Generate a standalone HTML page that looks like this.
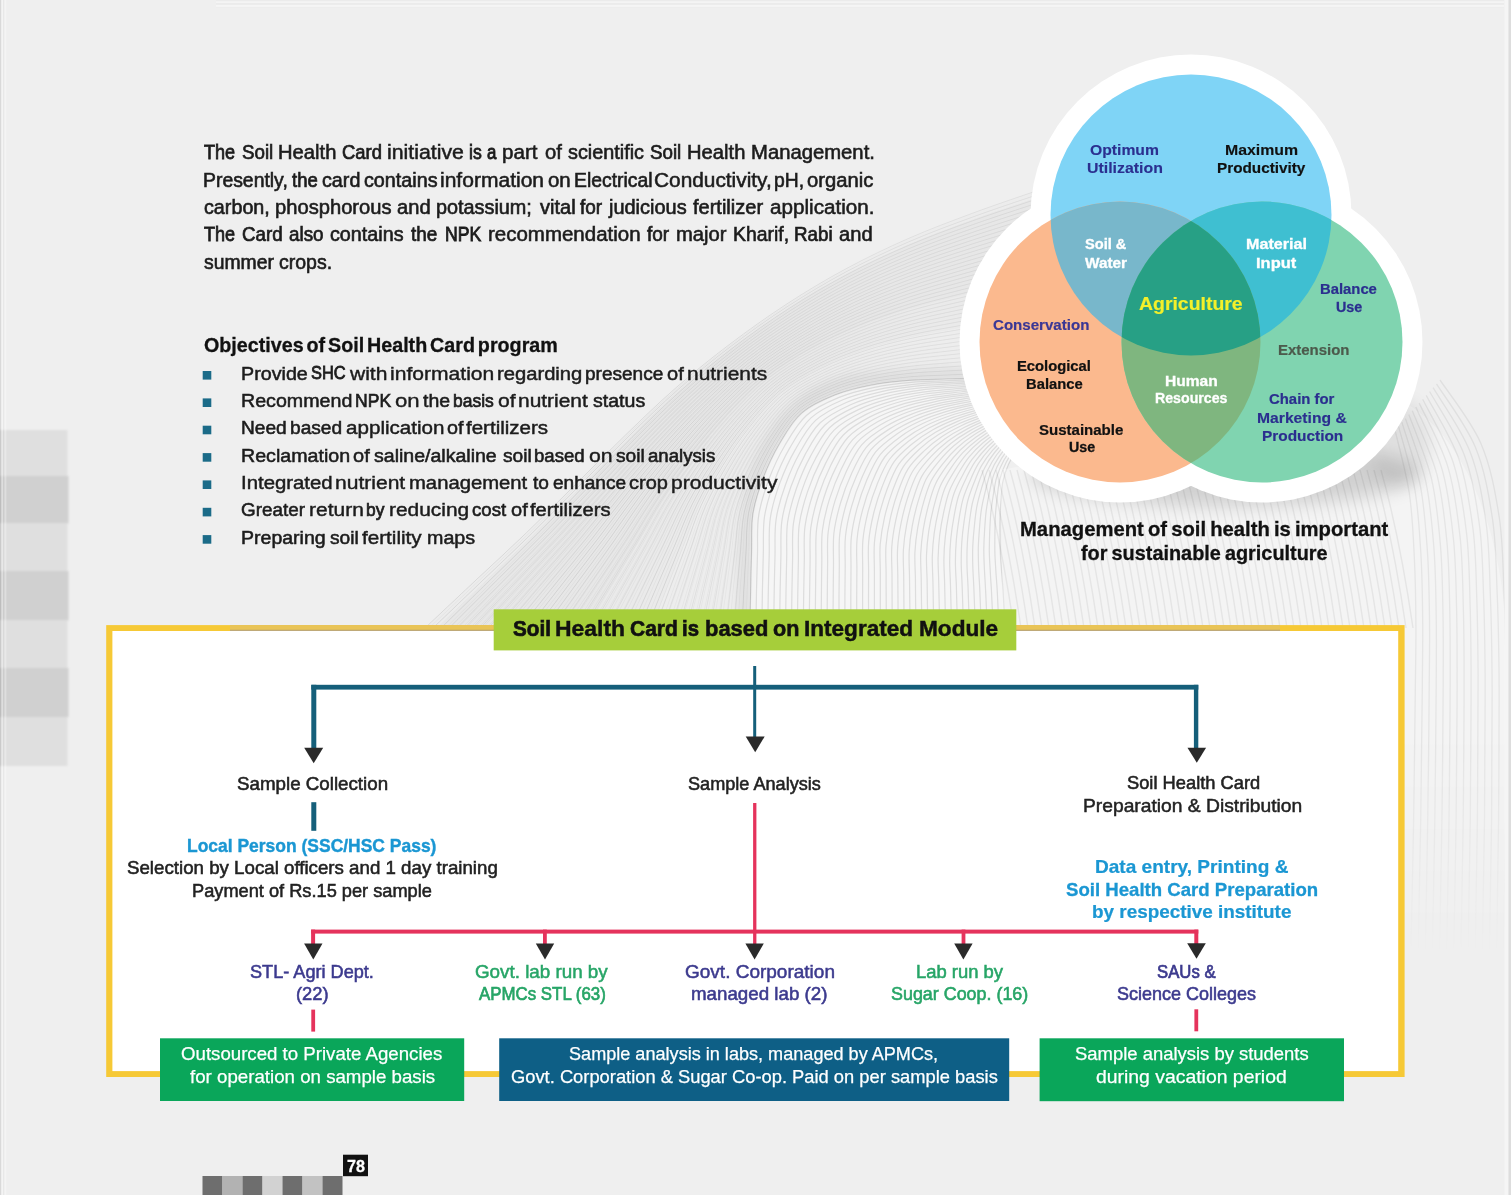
<!DOCTYPE html>
<html><head><meta charset="utf-8"><title>Soil Health Card</title>
<style>
html,body{margin:0;padding:0}
body{width:1511px;height:1195px;position:relative;overflow:hidden;background:#efefef;font-family:"Liberation Sans",sans-serif}
.t{position:absolute;white-space:pre;line-height:1;transform-origin:0 0}
.b{position:absolute}
#art{position:absolute;left:0;top:0}
</style></head><body>
<!--BG-->
<svg id="art" width="1511" height="1195" viewBox="0 0 1511 1195">
<defs>
<clipPath id="cb"><circle cx="1191" cy="215" r="140.5"/></clipPath>
<clipPath id="co"><circle cx="1120" cy="342" r="140.5"/></clipPath>
<filter id="sh" x="-20%" y="-20%" width="140%" height="150%"><feGaussianBlur stdDeviation="9"/></filter>
<filter id="b5" x="-20%" y="-20%" width="140%" height="140%"><feGaussianBlur stdDeviation="5"/></filter>
<linearGradient id="fg" x1="0" y1="0" x2="0" y2="1"><stop offset="0" stop-color="#fff"/><stop offset="0.62" stop-color="#fff"/><stop offset="0.8" stop-color="#000"/><stop offset="1" stop-color="#000"/></linearGradient>
<mask id="fade" maskUnits="userSpaceOnUse" x="0" y="0" width="1511" height="1195"><rect x="0" y="0" width="1511" height="1195" fill="url(#fg)"/></mask>
<filter id="b1" x="-10%" y="-10%" width="120%" height="120%"><feGaussianBlur stdDeviation="0.9"/></filter>
<linearGradient id="fg2" gradientUnits="userSpaceOnUse" x1="520" y1="600" x2="900" y2="270"><stop offset="0" stop-color="#fff"/><stop offset="0.45" stop-color="#fff"/><stop offset="1" stop-color="#000"/></linearGradient>
<mask id="fade2" maskUnits="userSpaceOnUse" x="0" y="0" width="1511" height="1195"><rect x="0" y="0" width="1511" height="1195" fill="url(#fg2)"/></mask>
</defs>
<path d="M425.0 628.0C433.4 620.1 458.7 596.3 475.6 580.4C492.5 564.6 509.6 549.0 526.3 533.0C543.0 516.9 559.3 500.5 575.8 484.2C592.3 467.9 608.5 451.4 625.2 435.4C641.8 419.3 658.4 403.1 675.9 387.9C693.3 372.7 711.4 358.1 729.8 344.2C748.3 330.2 767.2 316.7 786.6 304.1C806.0 291.5 825.9 279.6 846.3 268.6C866.6 257.6 887.6 247.6 908.8 238.3C930.0 229.1 951.7 220.9 973.4 212.9C995.1 204.8 1028.1 193.8 1039.0 190.0 L1036.8 197.5C1026.1 201.2 993.8 211.8 972.5 219.5C951.2 227.2 929.8 235.0 909.0 243.9C888.2 252.9 867.6 262.5 847.6 273.1C827.5 283.7 807.9 295.3 788.9 307.5C769.8 319.8 751.2 332.9 733.2 346.6C715.1 360.3 697.5 374.7 680.5 389.6C663.6 404.6 647.4 420.6 631.3 436.5C615.1 452.4 599.3 468.7 583.4 484.9C567.5 501.0 551.8 517.4 535.7 533.3C519.6 549.3 503.1 564.9 486.8 580.6C470.5 596.4 446.1 620.1 438.0 628.0Z" fill="#000" opacity="0.012" />
<path d="M438.0 628.0C446.1 620.1 470.5 596.4 486.8 580.6C503.1 564.9 519.6 549.3 535.7 533.3C551.8 517.4 567.5 501.0 583.4 484.9C599.3 468.7 615.1 452.4 631.3 436.5C647.4 420.6 663.6 404.6 680.5 389.6C697.5 374.7 715.1 360.3 733.2 346.6C751.2 332.9 769.8 319.8 788.9 307.5C807.9 295.3 827.5 283.7 847.6 273.1C867.6 262.5 888.2 252.9 909.0 243.9C929.8 235.0 951.2 227.2 972.5 219.5C993.8 211.8 1026.1 201.2 1036.8 197.5 L1012.0 284.0C1003.5 286.0 978.1 291.6 961.2 295.7C944.3 299.9 927.3 303.9 910.7 308.9C894.0 313.9 877.5 319.4 861.4 325.9C845.3 332.5 829.3 339.7 814.1 348.0C798.9 356.3 783.7 365.3 770.0 375.9C756.3 386.5 744.0 398.9 732.0 411.5C720.1 424.1 709.1 437.7 698.4 451.4C687.8 465.1 677.6 479.3 668.1 493.8C658.5 508.3 650.2 523.7 641.3 538.6C632.3 553.5 623.3 568.3 614.3 583.2C605.4 598.2 592.0 620.5 587.5 628.0Z" fill="#000" opacity="0.03" />
<path d="M587.5 628.0C592.0 620.5 605.4 598.2 614.3 583.2C623.3 568.3 632.3 553.5 641.3 538.6C650.2 523.7 658.5 508.3 668.1 493.8C677.6 479.3 687.8 465.1 698.4 451.4C709.1 437.7 720.1 424.1 732.0 411.5C744.0 398.9 756.3 386.5 770.0 375.9C783.7 365.3 798.9 356.3 814.1 348.0C829.3 339.7 845.3 332.5 861.4 325.9C877.5 319.4 894.0 313.9 910.7 308.9C927.3 303.9 944.3 299.9 961.2 295.7C978.1 291.6 1003.5 286.0 1012.0 284.0 L1001.2 321.6C993.6 322.8 971.0 326.4 955.9 329.0C940.8 331.7 925.6 334.0 910.7 337.4C895.8 340.8 880.9 344.6 866.4 349.4C851.9 354.3 837.4 359.7 823.7 366.4C810.0 373.2 796.2 380.5 784.3 389.9C772.4 399.3 762.2 411.0 752.4 422.7C742.6 434.3 733.7 447.0 725.5 459.9C717.2 472.7 709.4 486.0 702.7 499.7C696.1 513.5 691.2 528.1 685.6 542.3C679.9 556.5 674.4 570.8 668.9 585.1C663.4 599.4 655.2 620.9 652.5 628.0Z" fill="#000" opacity="0.02" />
<path d="M652.5 628.0C655.2 620.9 663.4 599.4 668.9 585.1C674.4 570.8 679.9 556.5 685.6 542.3C691.2 528.1 696.1 513.5 702.7 499.7C709.4 486.0 717.2 472.7 725.5 459.9C733.7 447.0 742.6 434.3 752.4 422.7C762.2 411.0 772.4 399.3 784.3 389.9C796.2 380.5 810.0 373.2 823.7 366.4C837.4 359.7 851.9 354.3 866.4 349.4C880.9 344.6 895.8 340.8 910.7 337.4C925.6 334.0 940.8 331.7 955.9 329.0C971.0 326.4 993.6 322.8 1001.2 321.6 L985.0 378.0C978.7 378.2 959.7 378.6 947.1 379.0C934.5 379.4 921.8 379.4 909.3 380.4C896.7 381.4 884.0 382.6 871.7 385.0C859.3 387.5 846.7 390.3 835.1 395.0C823.5 399.7 811.0 404.9 801.8 413.0C792.5 421.2 786.0 432.9 779.5 443.7C773.1 454.5 767.7 466.2 763.3 477.9C758.9 489.7 754.9 502.0 752.9 514.4C751.0 526.8 752.0 539.6 751.6 552.2C751.2 564.9 750.9 577.5 750.7 590.1C750.4 602.7 750.1 621.7 750.0 628.0Z" fill="#000" opacity="0.008" />
<path d="M425.0 628.0C433.4 620.1 458.7 596.3 475.6 580.4C492.5 564.6 509.6 549.0 526.3 532.9C543.1 516.9 559.4 500.4 575.8 484.2C592.3 467.9 608.6 451.3 625.2 435.3C641.9 419.2 658.5 403.0 675.9 387.8C693.4 372.6 711.4 358.1 729.9 344.1C748.3 330.2 767.2 316.7 786.6 304.1C806.0 291.5 825.9 279.5 846.3 268.6C866.7 257.6 887.6 247.6 908.8 238.3C930.0 229.0 951.7 221.0 973.4 212.9C995.1 204.8 1028.1 193.8 1039.0 190.0M432.9 628.0C441.2 620.1 465.9 596.4 482.3 580.7C498.8 564.9 515.5 549.3 531.8 533.4C548.1 517.4 564.0 501.1 580.2 484.9C596.3 468.7 612.2 452.3 628.6 436.3C645.0 420.4 661.3 404.2 678.5 389.1C695.6 374.1 713.4 359.6 731.6 345.8C749.8 332.0 768.6 318.7 787.8 306.3C807.0 293.9 826.7 282.2 846.9 271.4C867.1 260.7 887.9 250.9 908.8 241.8C929.8 232.7 951.3 224.8 972.8 217.0C994.2 209.1 1026.9 198.3 1037.7 194.6M440.9 628.0C448.9 620.1 473.0 596.6 489.1 580.9C505.1 565.2 521.4 549.7 537.3 533.8C553.2 518.0 568.7 501.7 584.5 485.6C600.3 469.5 615.9 453.2 632.0 437.3C648.1 421.5 664.1 405.5 681.0 390.5C697.9 375.5 715.4 361.2 733.4 347.5C751.4 333.8 769.9 320.7 789.0 308.5C808.0 296.3 827.6 284.8 847.5 274.3C867.5 263.7 888.1 254.1 908.8 245.3C929.6 236.4 950.9 228.7 972.1 221.0C993.4 213.3 1025.7 202.8 1036.4 199.2M448.8 628.0C456.6 620.2 480.1 596.7 495.8 581.1C511.4 565.5 527.3 550.1 542.8 534.3C558.3 518.5 573.4 502.3 588.8 486.3C604.2 470.3 619.6 454.1 635.3 438.4C651.1 422.6 666.9 406.7 683.5 391.9C700.2 377.0 717.4 362.7 735.1 349.2C752.9 335.7 771.3 322.8 790.2 310.7C809.0 298.7 828.4 287.4 848.1 277.1C867.9 266.8 888.3 257.4 908.8 248.7C929.4 240.0 950.4 232.5 971.5 225.1C992.5 217.6 1024.5 207.3 1035.0 203.8M456.7 628.0C464.3 620.2 487.2 596.9 502.5 581.4C517.7 565.8 533.2 550.5 548.3 534.8C563.4 519.1 578.1 503.0 593.1 487.1C608.2 471.2 623.2 455.0 638.7 439.4C654.2 423.8 669.7 408.0 686.1 393.2C702.4 378.5 719.3 364.2 736.9 350.9C754.4 337.5 772.7 324.8 791.3 313.0C810.0 301.1 829.2 290.1 848.7 279.9C868.3 269.8 888.5 260.7 908.8 252.2C929.2 243.7 950.0 236.4 970.8 229.1C991.6 221.8 1023.2 211.8 1033.7 208.3M464.6 628.0C472.1 620.3 494.3 597.0 509.2 581.6C524.0 566.1 539.1 550.9 553.8 535.2C568.5 519.6 582.7 503.6 597.4 487.8C612.2 472.0 626.9 456.0 642.1 440.4C657.3 424.9 672.5 409.2 688.6 394.6C704.7 379.9 721.3 365.8 738.6 352.5C756.0 339.3 774.1 326.8 792.5 315.2C811.0 303.6 830.0 292.7 849.4 282.8C868.7 272.9 888.7 263.9 908.8 255.6C929.0 247.4 949.6 240.3 970.2 233.2C990.8 226.0 1022.0 216.3 1032.4 212.9M472.6 628.0C479.8 620.3 501.4 597.2 515.9 581.8C530.3 566.4 545.0 551.3 559.3 535.7C573.6 520.2 587.4 504.2 601.8 488.5C616.1 472.8 630.6 456.9 645.5 441.5C660.3 426.0 675.3 410.5 691.1 396.0C706.9 381.4 723.3 367.3 740.4 354.2C757.5 341.1 775.4 328.8 793.7 317.4C812.0 306.0 830.8 295.3 850.0 285.6C869.2 275.9 888.9 267.2 908.9 259.1C928.8 251.0 949.2 244.1 969.5 237.2C989.9 230.3 1020.8 220.8 1031.1 217.5M480.5 628.0C487.5 620.3 508.5 597.4 522.6 582.1C536.6 566.8 550.9 551.6 564.8 536.2C578.7 520.7 592.1 504.9 606.1 489.3C620.1 473.6 634.2 457.8 648.8 442.5C663.4 427.2 678.1 411.8 693.6 397.3C709.2 382.9 725.3 368.9 742.1 355.9C759.0 342.9 776.8 330.8 794.9 319.6C813.0 308.4 831.6 298.0 850.6 288.5C869.6 279.0 889.1 270.4 908.9 262.6C928.6 254.7 948.7 248.0 968.9 241.3C989.0 234.5 1019.6 225.3 1029.8 222.1M488.4 628.0C495.2 620.4 515.7 597.5 529.3 582.3C543.0 567.1 556.8 552.0 570.3 536.6C583.8 521.3 596.7 505.5 610.4 490.0C624.0 474.5 637.9 458.7 652.2 443.5C666.5 428.3 680.9 413.0 696.2 398.7C711.5 384.4 727.2 370.4 743.9 357.6C760.5 344.8 778.2 332.9 796.1 321.8C814.0 310.8 832.4 300.6 851.2 291.3C870.0 282.0 889.4 273.7 908.9 266.0C928.4 258.4 948.3 251.9 968.2 245.3C988.2 238.8 1018.4 229.8 1028.5 226.7M496.3 628.0C503.0 620.4 522.8 597.7 536.0 582.5C549.3 567.4 562.7 552.4 575.8 537.1C588.9 521.8 601.4 506.1 614.7 490.7C628.0 475.3 641.6 459.7 655.6 444.6C669.6 429.4 683.7 414.3 698.7 400.0C713.7 385.8 729.2 371.9 745.7 359.3C762.1 346.6 779.6 334.9 797.3 324.0C815.0 313.2 833.2 303.2 851.8 294.2C870.4 285.1 889.6 277.0 908.9 269.5C928.2 262.0 947.9 255.7 967.6 249.4C987.3 243.0 1017.2 234.3 1027.1 231.3M504.3 628.0C510.7 620.5 529.9 597.8 542.7 582.8C555.6 567.7 568.6 552.8 581.3 537.6C594.0 522.3 606.1 506.8 619.0 491.4C632.0 476.1 645.2 460.6 658.9 445.6C672.6 430.6 686.5 415.5 701.2 401.4C716.0 387.3 731.2 373.5 747.4 360.9C763.6 348.4 781.0 336.9 798.5 326.3C816.0 315.6 834.0 305.9 852.4 297.0C870.8 288.1 889.8 280.2 908.9 273.0C928.0 265.7 947.5 259.6 967.0 253.4C986.5 247.2 1016.0 238.8 1025.8 235.9M512.2 628.0C518.4 620.5 537.0 598.0 549.4 583.0C561.9 568.0 574.5 553.2 586.8 538.0C599.1 522.9 610.8 507.4 623.4 492.2C635.9 476.9 648.9 461.5 662.3 446.6C675.7 431.7 689.3 416.8 703.8 402.8C718.2 388.8 733.2 375.0 749.2 362.6C765.1 350.2 782.3 338.9 799.6 328.5C816.9 318.0 834.8 308.5 853.0 299.8C871.2 291.2 890.0 283.5 908.9 276.4C927.8 269.4 947.0 263.5 966.3 257.5C985.6 251.5 1014.8 243.3 1024.5 240.4M520.1 628.0C526.1 620.5 544.1 598.1 556.1 583.2C568.2 568.3 580.4 553.6 592.3 538.5C604.2 523.4 615.4 508.0 627.7 492.9C639.9 477.7 652.6 462.4 665.7 447.6C678.8 432.9 692.1 418.0 706.3 404.1C720.5 390.2 735.2 376.5 750.9 364.3C766.7 352.1 783.7 341.0 800.8 330.7C817.9 320.4 835.6 311.1 853.6 302.7C871.6 294.2 890.2 286.8 908.9 279.9C927.6 273.0 946.6 267.3 965.7 261.5C984.7 255.7 1013.6 247.8 1023.2 245.0M528.0 628.0C533.8 620.6 551.2 598.3 562.8 583.5C574.5 568.6 586.3 553.9 597.8 539.0C609.3 524.0 620.1 508.7 632.0 493.6C643.9 478.6 656.2 463.4 669.0 448.7C681.8 434.0 694.9 419.3 708.8 405.5C722.7 391.7 737.1 378.1 752.7 366.0C768.2 353.9 785.1 343.0 802.0 332.9C818.9 322.8 836.4 313.8 854.2 305.5C872.0 297.3 890.4 290.0 908.9 283.4C927.4 276.7 946.2 271.2 965.0 265.6C983.9 260.0 1012.4 252.3 1021.9 249.6M536.0 628.0C541.6 620.6 558.3 598.5 569.5 583.7C580.8 568.9 592.1 554.3 603.3 539.4C614.4 524.5 624.8 509.3 636.3 494.3C647.8 479.4 659.9 464.3 672.4 449.7C684.9 435.1 697.7 420.5 711.3 406.9C725.0 393.2 739.1 379.6 754.4 367.7C769.7 355.7 786.5 345.0 803.2 335.1C819.9 325.2 837.2 316.4 854.8 308.4C872.5 300.3 890.6 293.3 908.9 286.8C927.1 280.4 945.8 275.1 964.4 269.6C983.0 264.2 1011.2 256.8 1020.6 254.2M543.9 628.0C549.3 620.7 565.4 598.6 576.3 583.9C587.1 569.2 598.0 554.7 608.8 539.9C619.5 525.1 629.5 509.9 640.6 495.1C651.8 480.2 663.6 465.2 675.8 450.7C688.0 436.3 700.5 421.8 713.9 408.2C727.3 394.6 741.1 381.2 756.2 369.3C771.3 357.5 787.8 347.0 804.4 337.3C820.9 327.6 838.0 319.0 855.5 311.2C872.9 303.4 890.8 296.5 908.9 290.3C926.9 284.0 945.3 278.9 963.7 273.7C982.1 268.4 1010.0 261.3 1019.2 258.8M551.8 628.0C557.0 620.7 572.6 598.8 583.0 584.2C593.4 569.5 603.9 555.1 614.3 540.4C624.6 525.6 634.1 510.6 645.0 495.8C655.8 481.0 667.2 466.1 679.2 451.8C691.1 437.4 703.3 423.0 716.4 409.6C729.5 396.1 743.1 382.7 757.9 371.0C772.8 359.4 789.2 349.0 805.6 339.5C821.9 330.0 838.8 321.7 856.1 314.0C873.3 306.4 891.1 299.8 908.9 293.8C926.7 287.7 944.9 282.8 963.1 277.7C981.3 272.7 1008.8 265.8 1017.9 263.4M559.8 628.0C564.7 620.7 579.7 598.9 589.7 584.4C599.7 569.9 609.8 555.5 619.8 540.8C629.7 526.2 638.8 511.2 649.3 496.5C659.7 481.9 670.9 467.1 682.5 452.8C694.1 438.5 706.1 424.3 718.9 410.9C731.8 397.6 745.0 384.2 759.7 372.7C774.3 361.2 790.6 351.1 806.8 341.8C822.9 332.5 839.6 324.3 856.7 316.9C873.7 309.5 891.3 303.1 908.9 297.2C926.5 291.4 944.5 286.7 962.5 281.8C980.4 276.9 1007.6 270.3 1016.6 268.0M567.7 628.0C572.5 620.8 586.8 599.1 596.4 584.6C606.0 570.2 615.7 555.9 625.2 541.3C634.8 526.7 643.5 511.8 653.6 497.3C663.7 482.7 674.6 468.0 685.9 453.8C697.2 439.7 708.9 425.5 721.4 412.3C734.0 399.1 747.0 385.8 761.4 374.4C775.9 363.0 792.0 353.1 807.9 344.0C823.9 334.9 840.5 326.9 857.3 319.7C874.1 312.5 891.5 306.3 908.9 300.7C926.3 295.0 944.1 290.5 961.8 285.8C979.5 281.1 1006.4 274.8 1015.3 272.5M575.6 628.0C580.2 620.8 593.9 599.2 603.1 584.9C612.3 570.5 621.6 556.2 630.7 541.8C639.9 527.3 648.2 512.5 657.9 498.0C667.7 483.5 678.3 468.9 689.3 454.9C700.3 440.8 711.7 426.8 724.0 413.7C736.3 400.5 749.0 387.3 763.2 376.1C777.4 364.8 793.3 355.1 809.1 346.2C824.9 337.3 841.3 329.6 857.9 322.6C874.5 315.6 891.7 309.6 908.9 304.2C926.1 298.7 943.7 294.4 961.2 289.9C978.7 285.4 1005.2 279.3 1014.0 277.1M583.5 628.0C587.9 620.8 601.0 599.4 609.8 585.1C618.6 570.8 627.5 556.6 636.2 542.2C645.0 527.8 652.8 513.1 662.2 498.7C671.6 484.3 681.9 469.8 692.6 455.9C703.3 441.9 714.5 428.0 726.5 415.0C738.6 402.0 751.0 388.8 765.0 377.7C778.9 366.6 794.7 357.1 810.3 348.4C825.9 339.7 842.1 332.2 858.5 325.4C874.9 318.6 891.9 312.9 908.9 307.6C925.9 302.4 943.2 298.3 960.5 293.9C977.8 289.6 1004.0 283.7 1012.7 281.7M591.5 628.0C595.6 620.9 608.1 599.5 616.5 585.3C624.9 571.1 633.4 557.0 641.7 542.7C650.1 528.4 657.5 513.7 666.5 499.4C675.6 485.1 685.6 470.8 696.0 456.9C706.4 443.1 717.2 429.3 729.0 416.4C740.8 403.5 753.0 390.4 766.7 379.4C780.4 368.5 796.1 359.1 811.5 350.6C826.9 342.1 842.9 334.8 859.1 328.3C875.3 321.7 892.1 316.1 908.9 311.1C925.7 306.0 942.8 302.1 959.9 298.0C976.9 293.9 1002.8 288.2 1011.3 286.3M599.4 628.0C603.4 620.9 615.2 599.7 623.2 585.6C631.2 571.4 639.3 557.4 647.2 543.1C655.2 528.9 662.2 514.4 670.9 500.2C679.6 486.0 689.3 471.7 699.4 457.9C709.5 444.2 720.0 430.6 731.6 417.7C743.1 404.9 754.9 391.9 768.5 381.1C782.0 370.3 797.5 361.2 812.7 352.8C827.9 344.5 843.7 337.5 859.7 331.1C875.8 324.7 892.3 319.4 908.9 314.5C925.5 309.7 942.4 306.0 959.2 302.0C976.1 298.1 1001.6 292.7 1010.0 290.9M607.3 628.0C611.1 621.0 622.3 599.9 629.9 585.8C637.5 571.7 645.2 557.8 652.7 543.6C660.3 529.5 666.8 515.0 675.2 500.9C683.5 486.8 692.9 472.6 702.7 459.0C712.6 445.3 722.8 431.8 734.1 419.1C745.3 406.4 756.9 393.5 770.2 382.8C783.5 372.1 798.9 363.2 813.9 355.1C828.9 346.9 844.5 340.1 860.3 333.9C876.2 327.8 892.6 322.6 908.9 318.0C925.3 313.4 942.0 309.9 958.6 306.1C975.2 302.3 1000.4 297.2 1008.7 295.5M615.2 628.0C618.8 621.0 629.5 600.0 636.6 586.0C643.8 572.0 651.1 558.1 658.2 544.1C665.4 530.0 671.5 515.6 679.5 501.6C687.5 487.6 696.6 473.5 706.1 460.0C715.6 446.5 725.6 433.1 736.6 420.5C747.6 407.9 758.9 395.0 772.0 384.5C785.0 373.9 800.2 365.2 815.1 357.3C829.9 349.3 845.3 342.7 860.9 336.8C876.6 330.8 892.8 325.9 908.9 321.5C925.1 317.0 941.5 313.7 957.9 310.2C974.4 306.6 999.1 301.7 1007.4 300.0M623.2 628.0C626.5 621.0 636.6 600.2 643.3 586.3C650.1 572.3 657.0 558.5 663.7 544.5C670.5 530.6 676.2 516.3 683.8 502.4C691.5 488.4 700.3 474.5 709.5 461.0C718.7 447.6 728.4 434.3 739.1 421.8C749.9 409.4 760.9 396.5 773.7 386.1C786.6 375.8 801.6 367.2 816.2 359.5C830.9 351.7 846.1 345.4 861.5 339.6C877.0 333.9 893.0 329.2 908.9 324.9C924.9 320.7 941.1 317.6 957.3 314.2C973.5 310.8 997.9 306.2 1006.1 304.6M631.1 628.0C634.3 621.1 643.7 600.3 650.0 586.5C656.4 572.7 662.9 558.9 669.2 545.0C675.6 531.1 680.9 516.9 688.1 503.1C695.4 489.3 703.9 475.4 712.9 462.1C721.8 448.8 731.2 435.6 741.7 423.2C752.1 410.8 762.9 398.1 775.5 387.8C788.1 377.6 803.0 369.3 817.4 361.7C831.9 354.1 846.9 348.0 862.2 342.5C877.4 336.9 893.2 332.4 908.9 328.4C924.7 324.4 940.7 321.5 956.7 318.3C972.6 315.1 996.7 310.7 1004.8 309.2M639.0 628.0C642.0 621.1 650.8 600.5 656.7 586.7C662.7 573.0 668.7 559.3 674.7 545.5C680.7 531.7 685.5 517.5 692.5 503.8C699.4 490.1 707.6 476.3 716.2 463.1C724.9 449.9 734.0 436.8 744.2 424.6C754.4 412.3 764.8 399.6 777.2 389.5C789.6 379.4 804.4 371.3 818.6 363.9C832.9 356.5 847.7 350.6 862.8 345.3C877.8 340.0 893.4 335.7 909.0 331.9C924.5 328.0 940.3 325.3 956.0 322.3C971.8 319.3 995.5 315.2 1003.4 313.8M647.0 628.0C649.7 621.2 657.9 600.6 663.5 587.0C669.0 573.3 674.6 559.7 680.2 545.9C685.7 532.2 690.2 518.2 696.8 504.5C703.3 490.9 711.3 477.2 719.6 464.1C727.9 451.0 736.8 438.1 746.7 425.9C756.6 413.8 766.8 401.2 779.0 391.2C791.2 381.2 805.7 373.3 819.8 366.1C833.9 359.0 848.5 353.3 863.4 348.1C878.2 343.0 893.6 339.0 909.0 335.3C924.3 331.7 939.8 329.2 955.4 326.4C970.9 323.5 994.3 319.7 1002.1 318.4M654.9 628.0C657.4 621.2 665.0 600.8 670.2 587.2C675.3 573.6 680.5 560.1 685.7 546.4C690.8 532.8 694.9 518.8 701.1 505.3C707.3 491.7 714.9 478.2 723.0 465.2C731.0 452.2 739.6 439.3 749.3 427.3C758.9 415.2 768.8 402.7 780.7 392.9C792.7 383.0 807.1 375.3 821.0 368.3C834.9 361.4 849.3 355.9 864.0 351.0C878.6 346.1 893.8 342.2 909.0 338.8C924.1 335.4 939.4 333.1 954.7 330.4C970.0 327.8 993.1 324.2 1000.8 323.0M662.8 628.0C665.1 621.2 672.1 600.9 676.9 587.4C681.6 573.9 686.4 560.4 691.2 546.9C695.9 533.3 699.6 519.4 705.4 506.0C711.3 492.5 718.6 479.1 726.3 466.2C734.1 453.3 742.4 440.6 751.8 428.6C761.1 416.7 770.8 404.2 782.5 394.5C794.2 384.9 808.5 377.3 822.2 370.6C835.9 363.8 850.1 358.5 864.6 353.8C879.1 349.1 894.1 345.5 909.0 342.3C923.9 339.0 939.0 336.9 954.1 334.5C969.2 332.0 991.9 328.7 999.5 327.6M670.7 628.0C672.9 621.3 679.3 601.1 683.6 587.7C687.9 574.2 692.3 560.8 696.7 547.3C701.0 533.8 704.2 520.1 709.7 506.7C715.2 493.4 722.3 480.0 729.7 467.2C737.1 454.4 745.2 441.8 754.3 430.0C763.4 418.2 772.7 405.8 784.2 396.2C795.8 386.7 809.9 379.4 823.4 372.8C836.9 366.2 850.9 361.2 865.2 356.7C879.5 352.2 894.3 348.8 909.0 345.7C923.7 342.7 938.6 340.8 953.4 338.5C968.3 336.3 990.7 333.2 998.2 332.1M678.7 628.0C680.6 621.3 686.4 601.3 690.3 587.9C694.2 574.5 698.2 561.2 702.2 547.8C706.1 534.4 708.9 520.7 714.1 507.4C719.2 494.2 725.9 480.9 733.1 468.2C740.2 455.6 748.0 443.1 756.8 431.4C765.7 419.6 774.7 407.3 786.0 397.9C797.3 388.5 811.2 381.4 824.5 375.0C837.8 368.6 851.7 363.8 865.8 359.5C879.9 355.2 894.5 352.0 909.0 349.2C923.5 346.4 938.1 344.6 952.8 342.6C967.4 340.5 989.5 337.7 996.9 336.7M686.6 628.0C688.3 621.4 693.5 601.4 697.0 588.1C700.5 574.8 704.1 561.6 707.7 548.3C711.2 534.9 713.6 521.3 718.4 508.2C723.2 495.0 729.6 481.9 736.4 469.3C743.3 456.7 750.8 444.3 759.4 432.7C767.9 421.1 776.7 408.8 787.8 399.6C798.8 390.3 812.6 383.4 825.7 377.2C838.8 371.0 852.5 366.4 866.4 362.4C880.3 358.3 894.7 355.3 909.0 352.7C923.3 350.0 937.7 348.5 952.1 346.6C966.6 344.7 988.3 342.2 995.5 341.3M694.5 628.0C696.0 621.4 700.6 601.6 703.7 588.4C706.8 575.1 710.0 562.0 713.2 548.7C716.3 535.5 718.3 522.0 722.7 508.9C727.1 495.8 733.3 482.8 739.8 470.3C746.4 457.8 753.6 445.6 761.9 434.1C770.2 422.6 778.7 410.4 789.5 401.3C800.3 392.2 814.0 385.4 826.9 379.4C839.8 373.4 853.4 369.1 867.0 365.2C880.7 361.3 894.9 358.5 909.0 356.1C923.1 353.7 937.3 352.4 951.5 350.7C965.7 349.0 987.1 346.7 994.2 345.9M702.4 628.0C703.8 621.4 707.7 601.7 710.4 588.6C713.1 575.5 715.9 562.4 718.7 549.2C721.4 536.0 722.9 522.6 727.0 509.6C731.1 496.7 737.0 483.7 743.2 471.3C749.4 459.0 756.4 446.9 764.4 435.5C772.4 424.1 780.7 411.9 791.3 402.9C801.9 394.0 815.4 387.5 828.1 381.6C840.8 375.8 854.2 371.7 867.6 368.0C881.1 364.4 895.1 361.8 909.0 359.6C922.9 357.4 936.9 356.2 950.9 354.7C964.8 353.2 985.9 351.2 992.9 350.5M710.4 628.0C711.5 621.5 714.8 601.9 717.1 588.8C719.4 575.8 721.8 562.7 724.1 549.7C726.5 536.6 727.6 523.2 731.3 510.4C735.1 497.5 740.6 484.6 746.6 472.4C752.5 460.1 759.2 448.1 767.0 436.8C774.7 425.5 782.6 413.5 793.0 404.6C803.4 395.8 816.8 389.5 829.3 383.8C841.8 378.2 855.0 374.3 868.3 370.9C881.5 367.4 895.3 365.1 909.0 363.0C922.7 361.0 936.5 360.1 950.2 358.8C964.0 357.5 984.7 355.7 991.6 355.1M718.3 628.0C719.2 621.5 721.9 602.0 723.8 589.1C725.7 576.1 727.7 563.1 729.6 550.1C731.6 537.1 732.3 523.9 735.7 511.1C739.0 498.3 744.3 485.6 749.9 473.4C755.6 461.2 762.0 449.4 769.5 438.2C777.0 427.0 784.6 415.0 794.8 406.3C804.9 397.6 818.1 391.5 830.5 386.1C842.8 380.6 855.8 377.0 868.9 373.7C881.9 370.5 895.5 368.3 909.0 366.5C922.5 364.7 936.0 364.0 949.6 362.8C963.1 361.7 983.5 360.2 990.3 359.7M726.2 628.0C726.9 621.5 729.0 602.2 730.5 589.3C732.0 576.4 733.6 563.5 735.1 550.6C736.7 537.7 736.9 524.5 740.0 511.8C743.0 499.1 748.0 486.5 753.3 474.4C758.6 462.4 764.8 450.6 772.0 439.5C779.2 428.5 786.6 416.5 796.5 408.0C806.5 399.4 819.5 393.5 831.7 388.3C843.8 383.0 856.6 379.6 869.5 376.6C882.4 373.5 895.8 371.6 909.0 370.0C922.2 368.4 935.6 367.8 948.9 366.9C962.3 365.9 982.3 364.7 989.0 364.2M734.1 628.0C734.7 621.6 736.2 602.3 737.2 589.5C738.3 576.7 739.5 563.9 740.6 551.1C741.8 538.2 741.6 525.1 744.3 512.5C747.0 499.9 751.6 487.4 756.7 475.5C761.7 463.5 767.6 451.9 774.5 440.9C781.5 429.9 788.6 418.1 798.3 409.7C808.0 401.3 820.9 395.5 832.8 390.5C844.8 385.4 857.4 382.2 870.1 379.4C882.8 376.6 896.0 374.9 909.0 373.4C922.0 372.0 935.2 371.7 948.3 370.9C961.4 370.2 981.1 369.2 987.6 368.8M742.1 628.0C742.4 621.6 743.3 602.5 743.9 589.8C744.6 577.0 745.3 564.3 746.1 551.5C746.9 538.8 746.3 525.8 748.6 513.3C750.9 500.8 755.3 488.3 760.0 476.5C764.8 464.7 770.4 453.1 777.1 442.3C783.7 431.4 790.5 419.6 800.0 411.3C809.5 403.1 822.3 397.6 834.0 392.7C845.8 387.9 858.2 384.9 870.7 382.2C883.2 379.6 896.2 378.1 909.0 376.9C921.8 375.7 934.8 375.6 947.6 375.0C960.5 374.4 979.9 373.7 986.3 373.4M750.0 628.0C750.1 621.7 750.4 602.7 750.7 590.0C750.9 577.3 751.2 564.7 751.6 552.0C752.0 539.3 751.0 526.4 752.9 514.0C754.9 501.6 759.0 489.2 763.4 477.5C767.9 465.8 773.2 454.4 779.6 443.6C786.0 432.9 792.5 421.1 801.8 413.0C811.1 404.9 823.6 399.6 835.2 394.9C846.8 390.3 859.0 387.5 871.3 385.1C883.6 382.7 896.4 381.4 909.0 380.4C921.6 379.4 934.3 379.4 947.0 379.0C959.7 378.6 978.7 378.2 985.0 378.0" fill="none" stroke="#000" stroke-width="1.0" opacity="0.06"/>
<g mask="url(#fade2)"><path d="M425.0 628.0C433.4 620.1 458.7 596.3 475.6 580.4C492.5 564.6 509.6 549.0 526.3 532.9C543.1 516.9 559.4 500.4 575.8 484.2C592.3 467.9 608.6 451.3 625.2 435.3C641.9 419.2 658.5 403.0 675.9 387.8C693.4 372.6 711.4 358.1 729.9 344.1C748.3 330.2 767.2 316.7 786.6 304.1C806.0 291.5 825.9 279.5 846.3 268.6C866.7 257.6 887.6 247.6 908.8 238.3C930.0 229.0 951.7 221.0 973.4 212.9C995.1 204.8 1028.1 193.8 1039.0 190.0M429.1 628.0C437.4 620.1 462.4 596.3 479.1 580.5C495.8 564.7 512.7 549.2 529.2 533.2C545.7 517.2 561.8 500.8 578.1 484.5C594.4 468.3 610.5 451.8 627.0 435.8C643.5 419.8 660.0 403.6 677.3 388.5C694.6 373.4 712.4 358.9 730.8 345.0C749.1 331.1 767.9 317.7 787.2 305.3C806.5 292.8 826.4 280.9 846.6 270.1C866.9 259.2 887.8 249.3 908.8 240.1C929.9 230.9 951.5 223.0 973.1 215.0C994.6 207.0 1027.4 196.2 1038.3 192.4M433.2 628.0C441.5 620.1 466.1 596.4 482.6 580.7C499.1 564.9 515.8 549.4 532.1 533.4C548.3 517.4 564.2 501.1 580.3 484.9C596.4 468.7 612.4 452.3 628.7 436.4C645.1 420.4 661.4 404.3 678.6 389.2C695.7 374.1 713.5 359.7 731.7 345.9C749.9 332.1 768.6 318.8 787.8 306.4C807.0 294.0 826.8 282.3 846.9 271.5C867.1 260.8 887.9 251.0 908.8 241.9C929.8 232.9 951.3 225.0 972.7 217.1C994.2 209.2 1026.8 198.5 1037.6 194.8M437.3 628.0C445.5 620.1 469.8 596.5 486.1 580.8C502.3 565.1 518.8 549.6 534.9 533.6C551.0 517.7 566.6 501.4 582.6 485.3C598.5 469.2 614.3 452.8 630.5 436.9C646.7 421.0 662.9 404.9 679.9 389.9C696.9 374.9 714.5 360.5 732.6 346.8C750.7 333.0 769.3 319.8 788.4 307.6C807.6 295.3 827.2 283.6 847.3 273.0C867.3 262.4 888.0 252.7 908.8 243.7C929.7 234.8 951.0 227.0 972.4 219.2C993.7 211.4 1026.2 200.8 1036.9 197.1M441.5 628.0C449.5 620.2 473.5 596.6 489.6 580.9C505.6 565.2 521.9 549.8 537.8 533.9C553.6 518.0 569.1 501.7 584.8 485.7C600.6 469.6 616.2 453.3 632.2 437.4C648.3 421.6 664.3 405.6 681.2 390.6C698.1 375.6 715.5 361.3 733.5 347.6C751.5 334.0 770.0 320.9 789.1 308.7C808.1 296.5 827.6 285.0 847.6 274.5C867.5 263.9 888.1 254.4 908.8 245.5C929.6 236.7 950.8 229.0 972.1 221.3C993.3 213.6 1025.6 203.2 1036.3 199.5M445.6 628.0C453.5 620.2 477.2 596.7 493.0 581.0C508.9 565.4 524.9 550.0 540.6 534.1C556.3 518.3 571.5 502.1 587.1 486.0C602.6 470.0 618.1 453.7 634.0 438.0C649.9 422.2 665.8 406.2 682.5 391.3C699.2 376.4 716.6 362.1 734.4 348.5C752.3 334.9 770.8 321.9 789.7 309.9C808.6 297.8 828.0 286.4 847.9 275.9C867.8 265.5 888.2 256.1 908.8 247.3C929.5 238.6 950.6 231.0 971.7 223.4C992.9 215.8 1024.9 205.5 1035.6 201.9M449.7 628.0C457.5 620.2 480.9 596.8 496.5 581.1C512.2 565.5 528.0 550.2 543.5 534.4C558.9 518.6 573.9 502.4 589.3 486.4C604.7 470.4 620.0 454.2 635.7 438.5C651.5 422.8 667.2 406.9 683.8 392.0C700.4 377.2 717.6 362.9 735.3 349.4C753.1 335.9 771.5 323.0 790.3 311.0C809.1 299.0 828.4 287.7 848.2 277.4C868.0 267.1 888.3 257.8 908.8 249.1C929.4 240.5 950.4 233.0 971.4 225.5C992.4 218.0 1024.3 207.8 1034.9 204.3M453.8 628.0C461.5 620.2 484.6 596.8 500.0 581.3C515.4 565.7 531.1 550.3 546.3 534.6C561.6 518.9 576.3 502.7 591.5 486.8C606.7 470.9 621.9 454.7 637.5 439.0C653.1 423.4 668.7 407.5 685.1 392.7C701.6 377.9 718.6 363.7 736.2 350.2C753.9 336.8 772.2 324.0 790.9 312.2C809.6 300.3 828.9 289.1 848.5 278.9C868.2 268.7 888.4 259.5 908.8 250.9C929.3 242.4 950.2 235.0 971.1 227.6C992.0 220.2 1023.7 210.2 1034.2 206.7M457.9 628.0C465.5 620.2 488.3 596.9 503.5 581.4C518.7 565.9 534.1 550.5 549.2 534.8C564.2 519.1 578.8 503.1 593.8 487.2C608.8 471.3 623.8 455.2 639.2 439.6C654.7 423.9 670.1 408.2 686.4 393.4C702.8 378.7 719.6 364.5 737.1 351.1C754.7 337.8 772.9 325.1 791.5 313.3C810.1 301.5 829.3 290.5 848.8 280.4C868.4 270.3 888.5 261.2 908.8 252.7C929.2 244.3 949.9 237.0 970.7 229.7C991.5 222.4 1023.1 212.5 1033.5 209.0M462.0 628.0C469.5 620.3 492.0 597.0 507.0 581.5C522.0 566.0 537.2 550.7 552.0 535.1C566.9 519.4 581.2 503.4 596.0 487.6C610.8 471.7 625.7 455.7 641.0 440.1C656.3 424.5 671.6 408.8 687.8 394.1C703.9 379.5 720.7 365.3 738.1 352.0C755.5 338.7 773.6 326.1 792.1 314.4C810.6 302.8 829.7 291.8 849.2 281.8C868.6 271.9 888.6 262.8 908.8 254.5C929.0 246.2 949.7 239.0 970.4 231.8C991.1 224.6 1022.4 214.8 1032.8 211.4M466.1 628.0C473.5 620.3 495.7 597.1 510.5 581.6C525.2 566.2 540.2 550.9 554.9 535.3C569.5 519.7 583.6 503.7 598.3 487.9C612.9 472.1 627.6 456.1 642.7 440.6C657.9 425.1 673.0 409.5 689.1 394.9C705.1 380.2 721.7 366.1 739.0 352.9C756.2 339.7 774.3 327.2 792.7 315.6C811.2 304.0 830.1 293.2 849.5 283.3C868.8 273.4 888.7 264.5 908.8 256.3C928.9 248.1 949.5 241.0 970.1 233.9C990.6 226.8 1021.8 217.2 1032.2 213.8M470.3 628.0C477.5 620.3 499.4 597.2 513.9 581.8C528.5 566.3 543.3 551.1 557.7 535.6C572.1 520.0 586.0 504.0 600.5 488.3C615.0 472.6 629.5 456.6 644.5 441.2C659.5 425.7 674.5 410.1 690.4 395.6C706.3 381.0 722.7 366.9 739.9 353.7C757.0 340.6 775.0 328.2 793.4 316.7C811.7 305.3 830.5 294.6 849.8 284.8C869.0 275.0 888.9 266.2 908.8 258.1C928.8 250.0 949.3 243.0 969.7 236.0C990.2 229.0 1021.2 219.5 1031.5 216.2M474.4 628.0C481.5 620.3 503.0 597.2 517.4 581.9C531.8 566.5 546.3 551.3 560.6 535.8C574.8 520.3 588.5 504.4 602.7 488.7C617.0 473.0 631.4 457.1 646.2 441.7C661.0 426.3 675.9 410.8 691.7 396.3C707.5 381.7 723.7 367.7 740.8 354.6C757.8 341.5 775.8 329.3 794.0 317.9C812.2 306.5 831.0 295.9 850.1 286.3C869.3 276.6 889.0 267.9 908.9 259.9C928.7 251.9 949.1 245.0 969.4 238.1C989.7 231.2 1020.6 221.8 1030.8 218.6M478.5 628.0C485.6 620.3 506.7 597.3 520.9 582.0C535.1 566.7 549.4 551.5 563.4 536.1C577.4 520.6 590.9 504.7 605.0 489.1C619.1 473.4 633.3 457.6 648.0 442.2C662.6 426.9 677.4 411.4 693.0 397.0C708.6 382.5 724.8 368.5 741.7 355.5C758.6 342.5 776.5 330.3 794.6 319.0C812.7 307.8 831.4 297.3 850.4 287.7C869.5 278.2 889.1 269.6 908.9 261.7C928.6 253.8 948.8 247.0 969.1 240.2C989.3 233.4 1019.9 224.2 1030.1 220.9M482.6 628.0C489.6 620.4 510.4 597.4 524.4 582.1C538.3 566.8 552.5 551.7 566.3 536.3C580.1 520.8 593.3 505.0 607.2 489.4C621.1 473.9 635.2 458.1 649.7 442.8C664.2 427.5 678.8 412.1 694.3 397.7C709.8 383.3 725.8 369.3 742.6 356.3C759.4 343.4 777.2 331.4 795.2 320.2C813.2 309.0 831.8 298.7 850.7 289.2C869.7 279.8 889.2 271.3 908.9 263.5C928.5 255.7 948.6 249.0 968.7 242.3C988.8 235.6 1019.3 226.5 1029.4 223.3M486.7 628.0C493.6 620.4 514.1 597.5 527.9 582.2C541.6 567.0 555.5 551.9 569.1 536.5C582.7 521.1 595.7 505.4 609.5 489.8C623.2 474.3 637.1 458.5 651.5 443.3C665.8 428.1 680.3 412.7 695.6 398.4C711.0 384.0 726.8 370.1 743.5 357.2C760.2 344.4 777.9 332.4 795.8 321.3C813.7 310.3 832.2 300.0 851.1 290.7C869.9 281.4 889.3 273.0 908.9 265.3C928.4 257.6 948.4 251.0 968.4 244.4C988.4 237.8 1018.7 228.8 1028.7 225.7M490.8 628.0C497.6 620.4 517.8 597.6 531.3 582.4C544.9 567.2 558.6 552.1 572.0 536.8C585.4 521.4 598.2 505.7 611.7 490.2C625.3 474.7 639.0 459.0 653.2 443.8C667.4 428.7 681.7 413.4 696.9 399.1C712.1 384.8 727.8 370.9 744.4 358.1C761.0 345.3 778.6 333.5 796.4 322.5C814.3 311.5 832.6 301.4 851.4 292.2C870.1 282.9 889.4 274.7 908.9 267.1C928.3 259.5 948.2 253.1 968.1 246.5C987.9 240.0 1018.1 231.2 1028.1 228.1M494.9 628.0C501.6 620.4 521.5 597.6 534.8 582.5C548.1 567.3 561.6 552.3 574.8 537.0C588.0 521.7 600.6 506.0 614.0 490.6C627.3 475.1 640.9 459.5 655.0 444.4C669.0 429.2 683.2 414.0 698.3 399.8C713.3 385.6 728.9 371.7 745.3 359.0C761.8 346.3 779.3 334.5 797.1 323.6C814.8 312.8 833.1 302.8 851.7 293.6C870.3 284.5 889.5 276.4 908.9 268.9C928.2 261.4 948.0 255.1 967.7 248.7C987.5 242.2 1017.4 233.5 1027.4 230.5M499.1 628.0C505.6 620.4 525.2 597.7 538.3 582.6C551.4 567.5 564.7 552.5 577.7 537.3C590.7 522.0 603.0 506.3 616.2 491.0C629.4 475.6 642.8 460.0 656.7 444.9C670.6 429.8 684.6 414.7 699.6 400.5C714.5 386.3 729.9 372.5 746.3 359.8C762.6 347.2 780.0 335.6 797.7 324.8C815.3 314.0 833.5 304.1 852.0 295.1C870.5 286.1 889.6 278.1 908.9 270.7C928.1 263.3 947.7 257.1 967.4 250.8C987.0 244.4 1016.8 235.8 1026.7 232.8M503.2 628.0C509.6 620.5 528.9 597.8 541.8 582.7C554.7 567.6 567.8 552.7 580.5 537.5C593.3 522.3 605.4 506.7 618.4 491.3C631.4 476.0 644.7 460.5 658.5 445.4C672.2 430.4 686.1 415.3 700.9 401.2C715.7 387.1 730.9 373.3 747.2 360.7C763.4 348.2 780.8 336.6 798.3 325.9C815.8 315.3 833.9 305.5 852.3 296.6C870.7 287.7 889.7 279.8 908.9 272.5C928.0 265.2 947.5 259.1 967.0 252.9C986.6 246.6 1016.2 238.2 1026.0 235.2M507.3 628.0C513.6 620.5 532.6 597.9 545.3 582.8C557.9 567.8 570.8 552.9 583.4 537.7C595.9 522.6 607.9 507.0 620.7 491.7C633.5 476.4 646.6 460.9 660.2 446.0C673.8 431.0 687.5 416.0 702.2 401.9C716.8 387.9 732.0 374.1 748.1 361.6C764.2 349.1 781.5 337.7 798.9 327.1C816.3 316.5 834.3 306.9 852.6 298.1C871.0 289.3 889.9 281.5 908.9 274.3C927.9 267.1 947.3 261.1 966.7 255.0C986.1 248.8 1015.6 240.5 1025.3 237.6M511.4 628.0C517.6 620.5 536.3 598.0 548.7 583.0C561.2 568.0 573.9 553.1 586.2 538.0C598.6 522.8 610.3 507.3 622.9 492.1C635.5 476.8 648.5 461.4 662.0 446.5C675.4 431.6 689.0 416.6 703.5 402.6C718.0 388.6 733.0 374.8 749.0 362.5C765.0 350.1 782.2 338.7 799.5 328.2C816.8 317.8 834.7 308.2 853.0 299.5C871.2 290.9 890.0 283.2 908.9 276.1C927.8 269.0 947.1 263.1 966.4 257.1C985.7 251.0 1014.9 242.8 1024.6 240.0M515.5 628.0C521.6 620.5 540.0 598.0 552.2 583.1C564.5 568.1 576.9 553.3 589.1 538.2C601.2 523.1 612.7 507.7 625.2 492.5C637.6 477.3 650.4 461.9 663.7 447.0C677.0 432.2 690.4 417.3 704.8 403.3C719.2 389.4 734.0 375.6 749.9 363.3C765.8 351.0 782.9 339.8 800.1 329.4C817.4 319.0 835.1 309.6 853.3 301.0C871.4 292.4 890.1 284.9 908.9 277.9C927.7 270.9 946.9 265.1 966.0 259.2C985.2 253.2 1014.3 245.2 1024.0 242.4M519.6 628.0C525.6 620.5 543.7 598.1 555.7 583.2C567.8 568.3 580.0 553.5 591.9 538.5C603.9 523.4 615.1 508.0 627.4 492.8C639.7 477.7 652.3 462.4 665.5 447.6C678.6 432.8 691.9 417.9 706.1 404.0C720.3 390.1 735.0 376.4 750.8 364.2C766.6 351.9 783.6 340.8 800.8 330.5C817.9 320.3 835.6 311.0 853.6 302.5C871.6 294.0 890.2 286.6 908.9 279.7C927.6 272.8 946.6 267.1 965.7 261.3C984.8 255.4 1013.7 247.5 1023.3 244.7M523.7 628.0C529.6 620.6 547.3 598.2 559.2 583.3C571.0 568.4 583.0 553.7 594.8 538.7C606.5 523.7 617.6 508.3 629.6 493.2C641.7 478.1 654.2 462.9 667.2 448.1C680.2 433.4 693.3 418.6 707.4 404.7C721.5 390.9 736.1 377.2 751.7 365.1C767.4 352.9 784.3 341.9 801.4 331.7C818.4 321.5 836.0 312.3 853.9 304.0C871.8 295.6 890.3 288.2 908.9 281.5C927.5 274.7 946.4 269.1 965.4 263.4C984.3 257.6 1013.1 249.8 1022.6 247.1M527.8 628.0C533.7 620.6 551.0 598.3 562.7 583.4C574.3 568.6 586.1 553.9 597.6 539.0C609.2 524.0 620.0 508.6 631.9 493.6C643.8 478.5 656.2 463.3 669.0 448.7C681.8 434.0 694.8 419.2 708.7 405.5C722.7 391.7 737.1 378.0 752.6 365.9C768.2 353.8 785.0 342.9 802.0 332.8C818.9 322.8 836.4 313.7 854.2 305.4C872.0 297.2 890.4 289.9 908.9 283.3C927.4 276.6 946.2 271.1 965.0 265.5C983.9 259.8 1012.4 252.2 1021.9 249.5M532.0 628.0C537.7 620.6 554.7 598.4 566.2 583.6C577.6 568.8 589.2 554.1 600.5 539.2C611.8 524.3 622.4 509.0 634.1 494.0C645.8 479.0 658.1 463.8 670.7 449.2C683.4 434.6 696.3 419.9 710.1 406.2C723.9 392.4 738.1 378.8 753.5 366.8C769.0 354.8 785.8 344.0 802.6 334.0C819.4 324.0 836.8 315.1 854.5 306.9C872.2 298.8 890.5 291.6 908.9 285.1C927.2 278.5 946.0 273.1 964.7 267.6C983.4 262.0 1011.8 254.5 1021.2 251.9M536.1 628.0C541.7 620.6 558.4 598.5 569.6 583.7C580.8 568.9 592.2 554.3 603.3 539.4C614.5 524.5 624.8 509.3 636.4 494.4C647.9 479.4 660.0 464.3 672.5 449.7C685.0 435.1 697.7 420.5 711.4 406.9C725.0 393.2 739.1 379.6 754.4 367.7C769.8 355.7 786.5 345.0 803.2 335.1C819.9 325.3 837.2 316.4 854.9 308.4C872.5 300.4 890.6 293.3 908.9 286.9C927.1 280.4 945.8 275.1 964.4 269.7C983.0 264.2 1011.2 256.8 1020.5 254.3M540.2 628.0C545.7 620.6 562.1 598.5 573.1 583.8C584.1 569.1 595.3 554.5 606.2 539.7C617.1 524.8 627.3 509.6 638.6 494.7C649.9 479.8 661.9 464.8 674.2 450.3C686.6 435.7 699.2 421.2 712.7 407.6C726.2 394.0 740.2 380.4 755.4 368.6C770.5 356.7 787.2 346.1 803.8 336.3C820.5 326.5 837.7 317.8 855.2 309.9C872.7 301.9 890.7 295.0 908.9 288.7C927.0 282.3 945.5 277.1 964.0 271.8C982.5 266.4 1010.6 259.2 1019.9 256.6M544.3 628.0C549.7 620.7 565.8 598.6 576.6 583.9C587.4 569.3 598.3 554.7 609.0 539.9C619.8 525.1 629.7 510.0 640.9 495.1C652.0 480.3 663.8 465.3 676.0 450.8C688.1 436.3 700.6 421.8 714.0 408.3C727.4 394.7 741.2 381.2 756.3 369.4C771.3 357.6 787.9 347.1 804.4 337.4C821.0 327.8 838.1 319.2 855.5 311.3C872.9 303.5 890.9 296.7 908.9 290.5C926.9 284.2 945.3 279.1 963.7 273.9C982.1 268.6 1009.9 261.5 1019.2 259.0M548.4 628.0C553.7 620.7 569.5 598.7 580.1 584.1C590.7 569.4 601.4 554.9 611.9 540.2C622.4 525.4 632.1 510.3 643.1 495.5C654.1 480.7 665.7 465.7 677.7 451.3C689.7 436.9 702.1 422.5 715.3 409.0C728.6 395.5 742.2 382.0 757.2 370.3C772.1 358.6 788.6 348.2 805.1 338.6C821.5 329.0 838.5 320.5 855.8 312.8C873.1 305.1 891.0 298.4 908.9 292.3C926.8 286.1 945.1 281.1 963.4 276.0C981.6 270.8 1009.3 263.8 1018.5 261.4M552.5 628.0C557.7 620.7 573.2 598.8 583.6 584.2C593.9 569.6 604.5 555.1 614.7 540.4C625.0 525.7 634.5 510.6 645.3 495.9C656.1 481.1 667.6 466.2 679.5 451.9C691.3 437.5 703.5 423.1 716.6 409.7C729.7 396.2 743.2 382.8 758.1 371.2C772.9 359.5 789.3 349.2 805.7 339.7C822.0 330.3 838.9 321.9 856.1 314.3C873.3 306.7 891.1 300.1 908.9 294.1C926.7 288.0 944.9 283.1 963.0 278.1C981.2 273.0 1008.7 266.2 1017.8 263.8M556.6 628.0C561.7 620.7 576.9 598.9 587.0 584.3C597.2 569.7 607.5 555.3 617.6 540.6C627.7 526.0 637.0 511.0 647.6 496.2C658.2 481.5 669.5 466.7 681.2 452.4C692.9 438.1 705.0 423.8 717.9 410.4C730.9 397.0 744.3 383.6 759.0 372.0C773.7 360.5 790.1 350.3 806.3 340.9C822.5 331.5 839.3 323.3 856.4 315.8C873.5 308.3 891.2 301.8 908.9 295.9C926.6 289.9 944.7 285.1 962.7 280.2C980.7 275.2 1008.1 268.5 1017.1 266.2M560.8 628.0C565.7 620.7 580.6 598.9 590.5 584.4C600.5 569.9 610.6 555.5 620.5 540.9C630.3 526.2 639.4 511.3 649.8 496.6C660.2 482.0 671.4 467.2 683.0 452.9C694.5 438.7 706.4 424.4 719.2 411.1C732.1 397.8 745.3 384.4 759.9 372.9C774.5 361.4 790.8 351.3 806.9 342.0C823.0 332.8 839.7 324.6 856.7 317.2C873.7 309.8 891.3 303.5 908.9 297.7C926.5 291.8 944.4 287.2 962.4 282.3C980.3 277.4 1007.4 270.8 1016.4 268.5M564.9 628.0C569.7 620.8 584.3 599.0 594.0 584.5C603.7 570.1 613.6 555.7 623.3 541.1C633.0 526.5 641.8 511.6 652.1 497.0C662.3 482.4 673.3 467.7 684.7 453.5C696.1 439.3 707.9 425.1 720.6 411.8C733.2 398.5 746.3 385.2 760.8 373.8C775.3 362.3 791.5 352.4 807.5 343.2C823.6 334.0 840.2 326.0 857.1 318.7C874.0 311.4 891.4 305.2 908.9 299.5C926.4 293.7 944.2 289.2 962.0 284.4C979.8 279.6 1006.8 273.2 1015.8 270.9M569.0 628.0C573.7 620.8 588.0 599.1 597.5 584.7C607.0 570.2 616.7 555.9 626.2 541.4C635.6 526.8 644.3 511.9 654.3 497.4C664.4 482.8 675.2 468.1 686.5 454.0C697.7 439.9 709.3 425.7 721.9 412.5C734.4 399.3 747.4 386.0 761.7 374.7C776.1 363.3 792.2 353.4 808.1 344.3C824.1 335.3 840.6 327.4 857.4 320.2C874.2 313.0 891.5 306.9 908.9 301.3C926.3 295.6 944.0 291.2 961.7 286.5C979.4 281.8 1006.2 275.5 1015.1 273.3M573.1 628.0C577.7 620.8 591.6 599.2 601.0 584.8C610.3 570.4 619.7 556.1 629.0 541.6C638.3 527.1 646.7 512.3 656.5 497.8C666.4 483.2 677.1 468.6 688.2 454.5C699.3 440.4 710.8 426.4 723.2 413.2C735.6 400.1 748.4 386.8 762.6 375.5C776.9 364.2 792.9 354.5 808.8 345.5C824.6 336.5 841.0 328.7 857.7 321.7C874.4 314.6 891.6 308.6 908.9 303.1C926.2 297.5 943.8 293.2 961.4 288.6C978.9 284.0 1005.6 277.8 1014.4 275.7M577.2 628.0C581.8 620.8 595.3 599.3 604.4 584.9C613.6 570.5 622.8 556.3 631.9 541.8C640.9 527.4 649.1 512.6 658.8 498.1C668.5 483.7 679.0 469.1 689.9 455.1C700.9 441.0 712.2 427.0 724.5 413.9C736.8 400.8 749.4 387.6 763.6 376.4C777.7 365.2 793.6 355.5 809.4 346.6C825.1 337.8 841.4 330.1 858.0 323.1C874.6 316.2 891.7 310.3 908.9 304.9C926.1 299.4 943.6 295.2 961.0 290.7C978.5 286.2 1004.9 280.2 1013.7 278.1M581.3 628.0C585.8 620.8 599.0 599.3 607.9 585.0C616.8 570.7 625.9 556.5 634.7 542.1C643.6 527.7 651.5 512.9 661.0 498.5C670.5 484.1 680.9 469.6 691.7 455.6C702.5 441.6 713.7 427.7 725.8 414.6C737.9 401.6 750.4 388.4 764.5 377.3C778.5 366.1 794.3 356.6 810.0 347.8C825.6 339.0 841.8 331.5 858.3 324.6C874.8 317.8 891.9 312.0 908.9 306.7C926.0 301.4 943.3 297.2 960.7 292.8C978.1 288.4 1004.3 282.5 1013.0 280.4M585.4 628.0C589.8 620.9 602.7 599.4 611.4 585.1C620.1 570.9 628.9 556.7 637.6 542.3C646.2 528.0 654.0 513.3 663.3 498.9C672.6 484.5 682.8 470.1 693.4 456.1C704.1 442.2 715.1 428.3 727.1 415.4C739.1 402.4 751.5 389.2 765.4 378.1C779.3 367.1 795.1 357.6 810.6 348.9C826.1 340.3 842.3 332.8 858.6 326.1C875.0 319.3 892.0 313.6 908.9 308.4C925.9 303.3 943.1 299.2 960.4 294.9C977.6 290.6 1003.7 284.8 1012.3 282.8M589.6 628.0C593.8 620.9 606.4 599.5 614.9 585.3C623.4 571.0 632.0 556.9 640.4 542.6C648.8 528.2 656.4 513.6 665.5 499.3C674.6 484.9 684.7 470.5 695.2 456.7C705.7 442.8 716.6 429.0 728.4 416.1C740.3 403.1 752.5 390.0 766.3 379.0C780.1 368.0 795.8 358.7 811.2 350.1C826.7 341.5 842.7 334.2 859.0 327.6C875.2 320.9 892.1 315.3 908.9 310.2C925.8 305.2 942.9 301.2 960.0 297.0C977.2 292.8 1003.1 287.2 1011.7 285.2M593.7 628.0C597.8 620.9 610.1 599.6 618.4 585.4C626.6 571.2 635.0 557.1 643.3 542.8C651.5 528.5 658.8 513.9 667.8 499.6C676.7 485.4 686.6 471.0 696.9 457.2C707.3 443.4 718.0 429.7 729.7 416.8C741.4 403.9 753.5 390.8 767.2 379.9C780.9 369.0 796.5 359.7 811.8 351.2C827.2 342.8 843.1 335.6 859.3 329.0C875.5 322.5 892.2 317.0 908.9 312.0C925.7 307.1 942.7 303.2 959.7 299.1C976.7 295.0 1002.4 289.5 1011.0 287.6M597.8 628.0C601.8 620.9 613.8 599.7 621.9 585.5C629.9 571.4 638.1 557.3 646.1 543.1C654.1 528.8 661.2 514.2 670.0 500.0C678.8 485.8 688.5 471.5 698.7 457.7C708.9 444.0 719.5 430.3 731.0 417.5C742.6 404.6 754.5 391.6 768.1 380.8C781.7 369.9 797.2 360.8 812.4 352.4C827.7 344.0 843.5 336.9 859.6 330.5C875.7 324.1 892.3 318.7 908.9 313.8C925.6 309.0 942.5 305.2 959.4 301.2C976.3 297.2 1001.8 291.8 1010.3 289.9M601.9 628.0C605.8 620.9 617.5 599.7 625.3 585.6C633.2 571.5 641.1 557.5 649.0 543.3C656.8 529.1 663.7 514.6 672.2 500.4C680.8 486.2 690.4 472.0 700.4 458.3C710.5 444.6 720.9 431.0 732.4 418.2C743.8 405.4 755.6 392.4 769.0 381.6C782.5 370.9 797.9 361.8 813.1 353.5C828.2 345.3 843.9 338.3 859.9 332.0C875.9 325.7 892.4 320.4 908.9 315.6C925.4 310.9 942.2 307.2 959.0 303.3C975.8 299.4 1001.2 294.2 1009.6 292.3M606.0 628.0C609.8 621.0 621.2 599.8 628.8 585.8C636.4 571.7 644.2 557.7 651.8 543.5C659.4 529.4 666.1 514.9 674.5 500.8C682.9 486.7 692.3 472.5 702.2 458.8C712.1 445.2 722.4 431.6 733.7 418.9C745.0 406.2 756.6 393.2 769.9 382.5C783.3 371.8 798.6 362.9 813.7 354.7C828.7 346.5 844.4 339.7 860.2 333.5C876.1 327.3 892.5 322.1 908.9 317.4C925.3 312.8 942.0 309.2 958.7 305.4C975.4 301.6 1000.6 296.5 1008.9 294.7M610.1 628.0C613.8 621.0 624.9 599.9 632.3 585.9C639.7 571.8 647.3 557.9 654.7 543.8C662.1 529.7 668.5 515.2 676.7 501.2C684.9 487.1 694.2 472.9 703.9 459.3C713.7 445.8 723.8 432.3 735.0 419.6C746.1 406.9 757.6 394.0 770.8 383.4C784.1 372.8 799.3 363.9 814.3 355.8C829.2 347.8 844.8 341.0 860.5 334.9C876.3 328.8 892.6 323.8 908.9 319.2C925.2 314.7 941.8 311.2 958.4 307.5C974.9 303.8 999.9 298.8 1008.2 297.1M614.2 628.0C617.8 621.0 628.6 600.0 635.8 586.0C643.0 572.0 650.3 558.1 657.5 544.0C664.7 529.9 670.9 515.6 679.0 501.5C687.0 487.5 696.1 473.4 705.7 459.9C715.2 446.3 725.3 432.9 736.3 420.3C747.3 407.7 758.6 394.8 771.7 384.3C784.8 373.7 800.1 365.0 814.9 357.0C829.8 349.0 845.2 342.4 860.9 336.4C876.5 330.4 892.7 325.5 908.9 321.0C925.1 316.6 941.6 313.2 958.0 309.6C974.5 306.0 999.3 301.2 1007.6 299.5M618.4 628.0C621.8 621.0 632.3 600.1 639.3 586.1C646.3 572.2 653.4 558.3 660.4 544.3C667.4 530.2 673.4 515.9 681.2 501.9C689.0 487.9 698.0 473.9 707.4 460.4C716.8 446.9 726.7 433.6 737.6 421.0C748.5 408.5 759.7 395.6 772.7 385.1C785.6 374.6 800.8 366.0 815.5 358.1C830.3 350.3 845.6 343.8 861.2 337.9C876.7 332.0 892.9 327.2 908.9 322.8C925.0 318.5 941.4 315.2 957.7 311.7C974.0 308.2 998.7 303.5 1006.9 301.8M622.5 628.0C625.8 621.0 635.9 600.2 642.7 586.2C649.5 572.3 656.4 558.5 663.2 544.5C670.0 530.5 675.8 516.2 683.4 502.3C691.1 488.4 699.9 474.4 709.2 460.9C718.4 447.5 728.2 434.2 738.9 421.7C749.7 409.2 760.7 396.4 773.6 386.0C786.4 375.6 801.5 367.1 816.1 359.3C830.8 351.5 846.0 345.1 861.5 339.4C877.0 333.6 893.0 328.9 908.9 324.6C924.9 320.4 941.1 317.2 957.4 313.8C973.6 310.4 998.1 305.8 1006.2 304.2M626.6 628.0C629.9 621.1 639.6 600.2 646.2 586.4C652.8 572.5 659.5 558.7 666.1 544.7C672.7 530.8 678.2 516.5 685.7 502.7C693.2 488.8 701.8 474.9 710.9 461.5C720.0 448.1 729.6 434.9 740.2 422.4C750.8 410.0 761.7 397.2 774.5 386.9C787.2 376.5 802.2 368.1 816.8 360.4C831.3 352.8 846.4 346.5 861.8 340.8C877.2 335.2 893.1 330.6 908.9 326.4C924.8 322.3 940.9 319.3 957.0 315.9C973.1 312.6 997.4 308.2 1005.5 306.6M630.7 628.0C633.9 621.1 643.3 600.3 649.7 586.5C656.1 572.6 662.6 558.9 668.9 545.0C675.3 531.1 680.6 516.9 687.9 503.0C695.2 489.2 703.8 475.3 712.7 462.0C721.6 448.7 731.1 435.5 741.5 423.1C752.0 410.7 762.8 398.0 775.4 387.7C788.0 377.5 802.9 369.2 817.4 361.6C831.8 354.0 846.9 347.9 862.1 342.3C877.4 336.8 893.2 332.3 908.9 328.2C924.7 324.2 940.7 321.3 956.7 318.1C972.7 314.8 996.8 310.5 1004.8 309.0M634.8 628.0C637.9 621.1 647.0 600.4 653.2 586.6C659.3 572.8 665.6 559.1 671.8 545.2C677.9 531.4 683.1 517.2 690.2 503.4C697.3 489.6 705.7 475.8 714.4 462.6C723.2 449.3 732.5 436.2 742.9 423.8C753.2 411.5 763.8 398.8 776.3 388.6C788.8 378.4 803.6 370.2 818.0 362.7C832.3 355.3 847.3 349.2 862.4 343.8C877.6 338.3 893.3 334.0 909.0 330.0C924.6 326.1 940.5 323.3 956.4 320.2C972.2 317.0 996.2 312.8 1004.1 311.4M638.9 628.0C641.9 621.1 650.7 600.5 656.7 586.7C662.6 573.0 668.7 559.3 674.6 545.5C680.6 531.6 685.5 517.5 692.4 503.8C699.3 490.1 707.6 476.3 716.2 463.1C724.8 449.9 734.0 436.8 744.2 424.5C754.3 412.3 764.8 399.6 777.2 389.5C789.6 379.4 804.3 371.3 818.6 363.9C832.9 356.5 847.7 350.6 862.8 345.3C877.8 339.9 893.4 335.7 909.0 331.8C924.5 328.0 940.3 325.3 956.0 322.3C971.8 319.2 995.5 315.2 1003.5 313.7M643.0 628.0C645.9 621.1 654.4 600.6 660.1 586.8C665.9 573.1 671.7 559.5 677.5 545.7C683.2 531.9 687.9 517.9 694.6 504.2C701.4 490.5 709.5 476.8 717.9 463.6C726.4 450.5 735.4 437.5 745.5 425.2C755.5 413.0 765.8 400.4 778.1 390.4C790.4 380.3 805.1 372.3 819.2 365.0C833.4 357.8 848.1 352.0 863.1 346.7C878.0 341.5 893.5 337.4 909.0 333.6C924.4 329.9 940.1 327.3 955.7 324.4C971.3 321.4 994.9 317.5 1002.8 316.1M647.2 628.0C649.9 621.2 658.1 600.6 663.6 587.0C669.2 573.3 674.8 559.7 680.3 546.0C685.9 532.2 690.3 518.2 696.9 504.6C703.4 490.9 711.4 477.3 719.7 464.2C728.0 451.1 736.9 438.1 746.8 426.0C756.7 413.8 766.9 401.2 779.0 391.2C791.2 381.3 805.8 373.4 819.8 366.2C833.9 359.0 848.5 353.3 863.4 348.2C878.2 343.1 893.6 339.0 909.0 335.4C924.3 331.8 939.8 329.3 955.4 326.5C970.9 323.6 994.3 319.8 1002.1 318.5M651.3 628.0C653.9 621.2 661.8 600.7 667.1 587.1C672.4 573.4 677.8 559.9 683.2 546.2C688.5 532.5 692.8 518.5 699.1 504.9C705.5 491.3 713.3 477.7 721.4 464.7C729.6 451.6 738.4 438.8 748.1 426.7C757.9 414.6 767.9 402.0 779.9 392.1C792.0 382.2 806.5 374.4 820.4 367.3C834.4 360.3 849.0 354.7 863.7 349.7C878.5 344.7 893.7 340.7 909.0 337.2C924.2 333.7 939.6 331.3 955.0 328.6C970.4 325.8 993.7 322.2 1001.4 320.9M655.4 628.0C657.9 621.2 665.5 600.8 670.6 587.2C675.7 573.6 680.9 560.1 686.0 546.4C691.2 532.8 695.2 518.8 701.4 505.3C707.6 491.8 715.2 478.2 723.2 465.2C731.2 452.2 739.8 439.4 749.4 427.4C759.0 415.3 768.9 402.8 780.9 393.0C792.8 383.2 807.2 375.4 821.1 368.5C834.9 361.5 849.4 356.1 864.0 351.2C878.7 346.3 893.9 342.4 909.0 339.0C924.1 335.6 939.4 333.3 954.7 330.7C970.0 328.0 993.0 324.5 1000.7 323.3M659.5 628.0C661.9 621.2 669.2 600.9 674.1 587.3C679.0 573.8 684.0 560.3 688.9 546.7C693.8 533.1 697.6 519.2 703.6 505.7C709.6 492.2 717.1 478.7 724.9 465.8C732.8 452.8 741.3 440.1 750.7 428.1C760.2 416.1 769.9 403.6 781.8 393.8C793.6 384.1 807.9 376.5 821.7 369.6C835.4 362.8 849.8 357.4 864.3 352.6C878.9 347.8 894.0 344.1 909.0 340.8C924.0 337.5 939.2 335.3 954.4 332.8C969.5 330.2 992.4 326.8 1000.0 325.6M663.6 628.0C665.9 621.2 672.9 601.0 677.6 587.4C682.2 573.9 687.0 560.5 691.7 546.9C696.5 533.4 700.0 519.5 705.9 506.1C711.7 492.6 719.0 479.2 726.7 466.3C734.4 453.4 742.7 440.7 752.0 428.8C761.4 416.9 771.0 404.4 782.7 394.7C794.4 385.0 808.6 377.5 822.3 370.8C836.0 364.0 850.2 358.8 864.7 354.1C879.1 349.4 894.1 345.8 909.0 342.6C923.9 339.4 939.0 337.3 954.0 334.9C969.1 332.4 991.8 329.2 999.4 328.0M667.7 628.0C669.9 621.3 676.6 601.0 681.0 587.6C685.5 574.1 690.1 560.7 694.6 547.2C699.1 533.6 702.5 519.8 708.1 506.4C713.7 493.1 720.9 479.7 728.4 466.8C736.0 454.0 744.2 441.4 753.4 429.5C762.5 417.6 772.0 405.2 783.6 395.6C795.2 386.0 809.3 378.6 822.9 371.9C836.5 365.3 850.6 360.2 865.0 355.6C879.3 351.0 894.2 347.5 909.0 344.4C923.8 341.3 938.7 339.3 953.7 337.0C968.6 334.6 991.2 331.5 998.7 330.4M671.8 628.0C673.9 621.3 680.2 601.1 684.5 587.7C688.8 574.3 693.1 560.9 697.4 547.4C701.7 533.9 704.9 520.2 710.3 506.8C715.8 493.5 722.8 480.1 730.2 467.4C737.6 454.6 745.6 442.0 754.7 430.2C763.7 418.4 773.0 406.0 784.5 396.5C796.0 386.9 810.1 379.6 823.5 373.1C837.0 366.5 851.0 361.5 865.3 357.1C879.5 352.6 894.3 349.2 909.0 346.2C923.6 343.2 938.5 341.3 953.3 339.1C968.2 336.8 990.5 333.8 998.0 332.8M675.9 628.0C678.0 621.3 683.9 601.2 688.0 587.8C692.1 574.4 696.2 561.1 700.3 547.6C704.4 534.2 707.3 520.5 712.6 507.2C717.9 493.9 724.7 480.6 731.9 467.9C739.2 455.2 747.1 442.7 756.0 430.9C764.9 419.1 774.0 406.8 785.4 397.3C796.8 387.9 810.8 380.7 824.1 374.2C837.5 367.8 851.5 362.9 865.6 358.5C879.7 354.2 894.4 350.9 909.0 348.0C923.5 345.1 938.3 343.3 953.0 341.2C967.7 339.0 989.9 336.2 997.3 335.2M680.1 628.0C682.0 621.3 687.6 601.3 691.5 587.9C695.3 574.6 699.3 561.3 703.1 547.9C707.0 534.5 709.7 520.8 714.8 507.6C719.9 494.3 726.6 481.1 733.7 468.4C740.8 455.8 748.5 443.3 757.3 431.6C766.1 419.9 775.1 407.6 786.3 398.2C797.6 388.8 811.5 381.7 824.8 375.4C838.0 369.0 851.9 364.3 865.9 360.0C880.0 355.8 894.5 352.6 909.0 349.8C923.4 347.0 938.1 345.3 952.7 343.3C967.3 341.2 989.3 338.5 996.6 337.5M684.2 628.0C686.0 621.3 691.3 601.4 695.0 588.1C698.6 574.7 702.3 561.5 706.0 548.1C709.7 534.8 712.2 521.1 717.1 508.0C722.0 494.8 728.5 481.6 735.4 469.0C742.3 456.4 750.0 444.0 758.6 432.3C767.2 420.7 776.1 408.4 787.2 399.1C798.4 389.8 812.2 382.8 825.4 376.5C838.5 370.3 852.3 365.6 866.2 361.5C880.2 357.3 894.6 354.3 909.0 351.6C923.3 348.9 937.9 347.3 952.3 345.4C966.8 343.4 988.7 340.8 995.9 339.9M688.3 628.0C690.0 621.4 695.0 601.4 698.4 588.2C701.9 574.9 705.4 561.7 708.8 548.4C712.3 535.1 714.6 521.5 719.3 508.3C724.0 495.2 730.4 482.1 737.2 469.5C743.9 456.9 751.4 444.6 759.9 433.0C768.4 421.4 777.1 409.2 788.1 399.9C799.1 390.7 812.9 383.8 826.0 377.7C839.1 371.5 852.7 367.0 866.6 363.0C880.4 358.9 894.7 356.0 909.0 353.4C923.2 350.8 937.6 349.3 952.0 347.5C966.4 345.6 988.0 343.2 995.3 342.3M692.4 628.0C694.0 621.4 698.7 601.5 701.9 588.3C705.1 575.1 708.4 561.9 711.7 548.6C715.0 535.3 717.0 521.8 721.5 508.7C726.1 495.6 732.3 482.5 738.9 470.0C745.5 457.5 752.9 445.3 761.2 433.7C769.6 422.2 778.2 410.0 789.0 400.8C799.9 391.7 813.6 384.9 826.6 378.8C839.6 372.8 853.1 368.4 866.9 364.4C880.6 360.5 894.9 357.7 909.0 355.2C923.1 352.7 937.4 351.4 951.7 349.6C965.9 347.8 987.4 345.5 994.6 344.7M696.5 628.0C698.0 621.4 702.4 601.6 705.4 588.4C708.4 575.2 711.5 562.1 714.6 548.9C717.6 535.6 719.4 522.1 723.8 509.1C728.1 496.0 734.2 483.0 740.7 470.6C747.1 458.1 754.3 445.9 762.5 434.4C770.8 423.0 779.2 410.8 790.0 401.7C800.7 392.6 814.3 385.9 827.2 380.0C840.1 374.0 853.6 369.7 867.2 365.9C880.8 362.1 895.0 359.4 909.0 357.0C923.0 354.6 937.2 353.4 951.3 351.7C965.5 350.0 986.8 347.8 993.9 347.1M700.6 628.0C702.0 621.4 706.1 601.7 708.9 588.5C711.7 575.4 714.5 562.3 717.4 549.1C720.3 535.9 721.9 522.5 726.0 509.5C730.2 496.5 736.1 483.5 742.4 471.1C748.7 458.7 755.8 446.6 763.8 435.1C771.9 423.7 780.2 411.6 790.9 402.6C801.5 393.6 815.1 387.0 827.8 381.1C840.6 375.3 854.0 371.1 867.5 367.4C881.0 363.7 895.1 361.1 909.0 358.8C922.9 356.5 937.0 355.4 951.0 353.8C965.0 352.2 986.2 350.2 993.2 349.4M704.7 628.0C706.0 621.4 709.8 601.8 712.4 588.7C714.9 575.5 717.6 562.5 720.3 549.3C722.9 536.2 724.3 522.8 728.3 509.8C732.3 496.9 738.0 484.0 744.2 471.6C750.3 459.3 757.2 447.2 765.2 435.9C773.1 424.5 781.2 412.4 791.8 403.4C802.3 394.5 815.8 388.0 828.4 382.3C841.1 376.5 854.4 372.5 867.8 368.9C881.2 365.3 895.2 362.8 909.0 360.6C922.8 358.4 936.8 357.4 950.7 355.9C964.6 354.4 985.5 352.5 992.5 351.8M708.9 628.0C710.0 621.5 713.5 601.9 715.8 588.8C718.2 575.7 720.7 562.7 723.1 549.6C725.6 536.5 726.7 523.1 730.5 510.2C734.3 497.3 739.9 484.5 745.9 472.2C751.9 459.9 758.7 447.9 766.5 436.6C774.3 425.2 782.3 413.2 792.7 404.3C803.1 395.5 816.5 389.1 829.1 383.4C841.6 377.8 854.8 373.8 868.1 370.3C881.5 366.8 895.3 364.4 909.0 362.4C922.7 360.3 936.5 359.4 950.3 358.0C964.1 356.6 984.9 354.8 991.8 354.2M713.0 628.0C714.0 621.5 717.2 601.9 719.3 588.9C721.5 575.9 723.7 562.9 726.0 549.8C728.2 536.8 729.1 523.4 732.8 510.6C736.4 497.7 741.8 484.9 747.7 472.7C753.5 460.5 760.1 448.5 767.8 437.3C775.4 426.0 783.3 414.0 793.6 405.2C803.9 396.4 817.2 390.1 829.7 384.6C842.2 379.0 855.2 375.2 868.5 371.8C881.7 368.4 895.4 366.1 909.0 364.2C922.6 362.2 936.3 361.4 950.0 360.1C963.7 358.8 984.3 357.2 991.2 356.6M717.1 628.0C718.0 621.5 720.9 602.0 722.8 589.0C724.8 576.0 726.8 563.1 728.8 550.1C730.8 537.1 731.6 523.8 735.0 511.0C738.4 498.2 743.7 485.4 749.4 473.2C755.1 461.1 761.6 449.2 769.1 438.0C776.6 426.8 784.3 414.8 794.5 406.1C804.7 397.3 817.9 391.2 830.3 385.7C842.7 380.3 855.7 376.6 868.8 373.3C881.9 370.0 895.5 367.8 909.0 366.0C922.5 364.1 936.1 363.4 949.7 362.2C963.3 361.0 983.7 359.5 990.5 359.0M721.2 628.0C722.0 621.5 724.5 602.1 726.3 589.1C728.0 576.2 729.8 563.3 731.7 550.3C733.5 537.3 734.0 524.1 737.2 511.4C740.5 498.6 745.6 485.9 751.2 473.8C756.7 461.7 763.0 449.8 770.4 438.7C777.8 427.5 785.3 415.6 795.4 406.9C805.5 398.3 818.6 392.2 830.9 386.9C843.2 381.5 856.1 377.9 869.1 374.8C882.1 371.6 895.6 369.5 909.0 367.8C922.4 366.0 935.9 365.4 949.3 364.3C962.8 363.2 983.0 361.8 989.8 361.3M725.3 628.0C726.1 621.5 728.2 602.2 729.8 589.3C731.3 576.4 732.9 563.5 734.5 550.5C736.1 537.6 736.4 524.4 739.5 511.7C742.5 499.0 747.5 486.4 752.9 474.3C758.3 462.3 764.5 450.5 771.7 439.4C779.0 428.3 786.4 416.4 796.3 407.8C806.3 399.2 819.3 393.3 831.5 388.0C843.7 382.8 856.5 379.3 869.4 376.2C882.3 373.2 895.7 371.2 909.0 369.6C922.3 367.9 935.7 367.4 949.0 366.4C962.4 365.4 982.4 364.2 989.1 363.7M729.4 628.0C730.1 621.6 731.9 602.3 733.2 589.4C734.6 576.5 736.0 563.7 737.4 550.8C738.8 537.9 738.8 524.8 741.7 512.1C744.6 499.5 749.4 486.8 754.7 474.8C759.9 462.8 765.9 451.1 773.0 440.1C780.1 429.1 787.4 417.2 797.2 408.7C807.1 400.2 820.1 394.3 832.1 389.2C844.2 384.0 856.9 380.7 869.7 377.7C882.5 374.7 895.8 372.9 909.0 371.4C922.2 369.9 935.4 369.4 948.7 368.5C961.9 367.6 981.8 366.5 988.4 366.1M733.5 628.0C734.1 621.6 735.6 602.3 736.7 589.5C737.8 576.7 739.0 563.9 740.2 551.0C741.4 538.2 741.3 525.1 744.0 512.5C746.7 499.9 751.3 487.3 756.4 475.4C761.5 463.4 767.4 451.8 774.3 440.8C781.3 429.8 788.4 418.0 798.2 409.5C807.9 401.1 820.8 395.4 832.8 390.3C844.7 385.3 857.3 382.0 870.0 379.2C882.7 376.3 896.0 374.6 909.0 373.2C922.1 371.8 935.2 371.4 948.3 370.6C961.5 369.8 981.2 368.8 987.7 368.5M737.7 628.0C738.1 621.6 739.3 602.4 740.2 589.6C741.1 576.8 742.1 564.1 743.1 551.3C744.1 538.5 743.7 525.4 746.2 512.9C748.7 500.3 753.3 487.8 758.2 475.9C763.1 464.0 768.8 452.4 775.7 441.5C782.5 430.6 789.4 418.8 799.1 410.4C808.7 402.1 821.5 396.4 833.4 391.5C845.3 386.5 857.7 383.4 870.4 380.7C883.0 377.9 896.1 376.3 909.0 375.0C922.0 373.7 935.0 373.4 948.0 372.7C961.0 372.0 980.5 371.2 987.1 370.9M741.8 628.0C742.1 621.6 743.0 602.5 743.7 589.7C744.4 577.0 745.1 564.3 745.9 551.5C746.7 538.8 746.1 525.8 748.4 513.2C750.8 500.7 755.2 488.3 759.9 476.5C764.7 464.6 770.3 453.1 777.0 442.2C783.6 431.4 790.5 419.5 800.0 411.3C809.5 403.0 822.2 397.5 834.0 392.6C845.8 387.8 858.2 384.8 870.7 382.1C883.2 379.5 896.2 378.0 909.0 376.8C921.8 375.6 934.8 375.4 947.7 374.8C960.6 374.2 979.9 373.5 986.4 373.2M745.9 628.0C746.1 621.6 746.7 602.6 747.2 589.9C747.7 577.2 748.2 564.5 748.8 551.7C749.4 539.0 748.5 526.1 750.7 513.6C752.8 501.2 757.1 488.8 761.7 477.0C766.3 465.2 771.7 453.7 778.3 442.9C784.8 432.1 791.5 420.3 800.9 412.2C810.3 404.0 822.9 398.5 834.6 393.8C846.3 389.0 858.6 386.1 871.0 383.6C883.4 381.1 896.3 379.7 909.0 378.6C921.7 377.5 934.6 377.4 947.3 376.9C960.1 376.4 979.3 375.8 985.7 375.6M750.0 628.0C750.1 621.7 750.4 602.7 750.7 590.0C750.9 577.3 751.2 564.7 751.6 552.0C752.0 539.3 751.0 526.4 752.9 514.0C754.9 501.6 759.0 489.2 763.4 477.5C767.9 465.8 773.2 454.4 779.6 443.6C786.0 432.9 792.5 421.1 801.8 413.0C811.1 404.9 823.6 399.6 835.2 394.9C846.8 390.3 859.0 387.5 871.3 385.1C883.6 382.7 896.4 381.4 909.0 380.4C921.6 379.4 934.3 379.4 947.0 379.0C959.7 378.6 978.7 378.2 985.0 378.0" fill="none" stroke="#000" stroke-width="0.6" opacity="0.055"/></g>
<path d="M750.0 628.0C750.1 620.3 750.4 597.0 750.8 581.5C751.2 566.1 750.7 550.4 752.2 535.1C753.7 519.8 755.6 504.3 759.7 489.7C763.9 475.0 769.6 460.2 777.2 447.1C784.8 434.0 794.0 420.7 805.5 411.0C817.0 401.3 831.9 393.6 846.4 388.9C860.8 384.1 876.9 384.1 892.3 382.5C907.6 380.9 923.1 380.0 938.6 379.3C954.0 378.5 977.3 378.2 985.0 378.0" fill="none" stroke="#000" stroke-width="14" opacity="0.05" filter="url(#b5)" transform="translate(-6,-4)"/>
<path d="M750.0 628.0C750.1 621.7 750.4 602.7 750.7 590.0C750.9 577.3 751.2 564.7 751.6 552.0C752.0 539.3 751.0 526.4 752.9 514.0C754.9 501.6 759.0 489.2 763.4 477.5C767.9 465.8 773.2 454.4 779.6 443.6C786.0 432.9 792.5 421.1 801.8 413.0C811.1 404.9 823.6 399.6 835.2 394.9C846.8 390.3 859.0 387.5 871.3 385.1C883.6 382.7 896.4 381.4 909.0 380.4C921.6 379.4 934.3 379.4 947.0 379.0C959.7 378.6 978.7 378.2 985.0 378.0 L1030.0 435.0C1027.9 437.2 1021.3 443.6 1017.7 448.5C1014.1 453.4 1011.0 458.7 1008.5 464.2C1006.0 469.8 1004.1 475.7 1002.8 481.6C1001.6 487.6 1001.5 493.8 1001.0 499.9C1000.5 506.0 1000.2 512.1 1000.0 518.2C999.8 524.3 999.9 530.4 1000.0 536.5C1000.1 542.6 1000.1 548.7 1000.4 554.8C1000.6 560.9 1001.3 567.0 1001.7 573.1C1002.2 579.2 1002.7 585.3 1003.1 591.4C1003.5 597.5 1003.7 603.6 1004.0 609.7C1004.4 615.8 1004.8 624.9 1005.0 628.0Z" fill="#fff" opacity="0.45" />
<path d="M750.0 628.0C750.1 621.7 750.4 602.7 750.7 590.0C750.9 577.3 751.2 564.7 751.6 552.0C752.0 539.3 751.0 526.4 752.9 514.0C754.9 501.6 759.0 489.2 763.4 477.5C767.9 465.8 773.2 454.4 779.6 443.6C786.0 432.9 792.5 421.1 801.8 413.0C811.1 404.9 823.6 399.6 835.2 394.9C846.8 390.3 859.0 387.5 871.3 385.1C883.6 382.7 896.4 381.4 909.0 380.4C921.6 379.4 934.3 379.4 947.0 379.0C959.7 378.6 978.7 378.2 985.0 378.0M755.9 628.0C756.0 621.7 756.3 603.0 756.5 590.4C756.8 577.9 757.1 565.4 757.5 552.9C757.8 540.4 756.8 527.6 758.7 515.4C760.6 503.1 764.6 490.9 768.9 479.3C773.3 467.7 778.5 456.4 784.7 445.8C791.0 435.1 797.3 423.5 806.4 415.5C815.5 407.4 827.7 402.1 839.1 397.4C850.4 392.7 862.3 389.8 874.4 387.3C886.4 384.8 899.0 383.4 911.3 382.3C923.7 381.2 936.2 381.2 948.6 380.7C961.1 380.2 979.8 379.5 986.0 379.3M761.9 628.0C762.0 621.8 762.2 603.3 762.4 590.9C762.7 578.5 763.0 566.2 763.3 553.8C763.7 541.5 762.7 528.9 764.5 516.7C766.4 504.6 770.2 492.6 774.4 481.1C778.7 469.6 783.7 458.5 789.8 447.9C795.9 437.4 802.2 425.9 811.0 417.9C819.9 409.9 831.9 404.5 842.9 399.8C854.0 395.1 865.6 392.2 877.4 389.6C889.2 387.0 901.5 385.5 913.6 384.3C925.8 383.1 938.0 382.9 950.3 382.3C962.5 381.7 981.0 380.9 987.1 380.7M767.8 628.0C767.9 621.9 768.1 603.6 768.3 591.4C768.6 579.2 768.8 566.9 769.2 554.7C769.5 542.5 768.5 530.1 770.3 518.1C772.1 506.1 775.8 494.2 779.9 482.9C784.1 471.6 789.0 460.5 795.0 450.1C800.9 439.7 807.0 428.3 815.6 420.4C824.3 412.4 836.0 407.0 846.8 402.2C857.6 397.5 868.9 394.5 880.5 391.8C892.0 389.2 904.1 387.5 916.0 386.2C927.9 384.9 939.9 384.6 951.9 383.9C964.0 383.2 982.1 382.3 988.1 382.0M773.7 628.0C773.8 622.0 774.0 603.9 774.2 591.8C774.4 579.8 774.7 567.7 775.0 555.7C775.3 543.6 774.3 531.3 776.1 519.5C777.8 507.7 781.4 495.9 785.5 484.7C789.5 473.5 794.3 462.6 800.1 452.3C805.9 441.9 811.8 430.7 820.2 422.8C828.7 414.9 840.1 409.5 850.6 404.7C861.2 399.9 872.3 396.8 883.5 394.1C894.8 391.3 906.6 389.6 918.3 388.2C929.9 386.7 941.8 386.3 953.6 385.5C965.4 384.7 983.3 383.7 989.2 383.3M779.7 628.0C779.7 622.0 779.9 604.2 780.1 592.3C780.3 580.4 780.6 568.5 780.9 556.6C781.2 544.7 780.2 532.5 781.9 520.9C783.5 509.2 787.1 497.6 791.0 486.5C794.9 475.4 799.6 464.6 805.2 454.4C810.9 444.2 816.6 433.1 824.8 425.3C833.1 417.4 844.2 411.9 854.5 407.1C864.8 402.3 875.6 399.1 886.6 396.3C897.6 393.5 909.2 391.7 920.6 390.1C932.0 388.6 943.6 388.0 955.2 387.1C966.8 386.2 984.4 385.0 990.2 384.6M785.6 628.0C785.7 622.1 785.8 604.5 786.0 592.7C786.2 581.0 786.4 569.2 786.7 557.5C787.0 545.7 786.0 533.8 787.6 522.2C789.3 510.7 792.7 499.2 796.5 488.3C800.3 477.4 804.8 466.7 810.3 456.6C815.8 446.5 821.4 435.5 829.5 427.7C837.5 419.9 848.3 414.4 858.4 409.6C868.4 404.7 878.9 401.5 889.7 398.6C900.4 395.6 911.7 393.7 922.9 392.1C934.1 390.4 945.5 389.8 956.9 388.7C968.3 387.7 985.5 386.4 991.3 386.0M791.5 628.0C791.6 622.2 791.7 604.8 791.9 593.2C792.1 581.6 792.3 570.0 792.6 558.4C792.8 546.8 791.9 535.0 793.4 523.6C795.0 512.2 798.3 500.9 802.0 490.1C805.7 479.3 810.1 468.7 815.5 458.7C820.8 448.8 826.3 437.9 834.1 430.1C841.8 422.4 852.4 416.9 862.2 412.0C872.0 407.1 882.2 403.8 892.7 400.8C903.2 397.8 914.3 395.8 925.2 394.0C936.2 392.3 947.3 391.5 958.5 390.3C969.7 389.2 986.7 387.8 992.3 387.3M797.4 628.0C797.5 622.3 797.6 605.1 797.8 593.7C798.0 582.2 798.2 570.8 798.4 559.3C798.6 547.9 797.7 536.2 799.2 525.0C800.7 513.8 803.9 502.6 807.5 491.9C811.1 481.2 815.4 470.8 820.6 460.9C825.8 451.0 831.1 440.3 838.7 432.6C846.2 424.8 856.5 419.4 866.1 414.4C875.6 409.5 885.5 406.1 895.8 403.0C906.0 400.0 916.8 397.8 927.5 396.0C938.3 394.1 949.2 393.2 960.1 392.0C971.1 390.7 987.8 389.2 993.4 388.6M803.4 628.0C803.4 622.4 803.5 605.4 803.7 594.1C803.8 582.8 804.0 571.5 804.3 560.2C804.5 548.9 803.5 537.5 805.0 526.4C806.5 515.3 809.6 504.2 813.0 493.7C816.5 483.1 820.7 472.8 825.7 463.1C830.8 453.3 835.9 442.7 843.3 435.0C850.6 427.3 860.7 421.8 869.9 416.9C879.2 411.9 888.8 408.5 898.8 405.3C908.8 402.1 919.4 399.9 929.8 397.9C940.3 396.0 951.0 394.9 961.8 393.6C972.6 392.2 989.0 390.5 994.4 389.9M809.3 628.0C809.3 622.4 809.4 605.7 809.6 594.6C809.7 583.4 809.9 572.3 810.1 561.2C810.3 550.0 809.4 538.7 810.8 527.7C812.2 516.8 815.2 505.9 818.5 495.5C821.9 485.1 826.0 474.9 830.8 465.2C835.7 455.6 840.7 445.1 847.9 437.5C855.0 429.8 864.8 424.3 873.8 419.3C882.8 414.3 892.2 410.8 901.9 407.5C911.6 404.3 921.9 401.9 932.2 399.9C942.4 397.8 952.9 396.6 963.4 395.2C974.0 393.8 990.1 391.9 995.5 391.3M815.2 628.0C815.3 622.5 815.4 606.0 815.5 595.0C815.6 584.0 815.8 573.1 815.9 562.1C816.1 551.1 815.2 539.9 816.6 529.1C817.9 518.3 820.8 507.6 824.0 497.3C827.3 487.0 831.2 476.9 836.0 467.4C840.7 457.8 845.6 447.5 852.5 439.9C859.4 432.3 868.9 426.8 877.6 421.8C886.4 416.7 895.5 413.1 904.9 409.8C914.4 406.5 924.5 404.0 934.5 401.8C944.5 399.7 954.7 398.3 965.1 396.8C975.4 395.3 991.3 393.3 996.5 392.6M821.2 628.0C821.2 622.6 821.3 606.3 821.4 595.5C821.5 584.7 821.6 573.8 821.8 563.0C822.0 552.1 821.1 541.1 822.4 530.5C823.7 519.8 826.4 509.2 829.5 499.1C832.7 488.9 836.5 479.0 841.1 469.5C845.7 460.1 850.4 449.9 857.1 442.4C863.8 434.8 873.0 429.3 881.5 424.2C890.0 419.2 898.8 415.4 908.0 412.0C917.2 408.6 927.0 406.0 936.8 403.8C946.6 401.5 956.6 400.1 966.7 398.4C976.9 396.8 992.4 394.7 997.6 393.9M827.1 628.0C827.1 622.7 827.2 606.6 827.3 595.9C827.4 585.3 827.5 574.6 827.6 563.9C827.8 553.2 826.9 542.4 828.2 531.9C829.4 521.4 832.0 510.9 835.0 500.9C838.1 490.9 841.8 481.0 846.2 471.7C850.7 462.4 855.2 452.3 861.7 444.8C868.2 437.3 877.1 431.7 885.3 426.7C893.6 421.6 902.1 417.8 911.1 414.3C920.0 410.8 929.6 408.1 939.1 405.7C948.7 403.4 958.4 401.8 968.4 400.0C978.3 398.3 993.6 396.0 998.6 395.2M833.0 628.0C833.0 622.7 833.1 606.9 833.2 596.4C833.2 585.9 833.4 575.3 833.5 564.8C833.6 554.3 832.8 543.6 833.9 533.2C835.1 522.9 837.7 512.6 840.6 502.7C843.5 492.8 847.1 483.1 851.4 473.9C855.6 464.6 860.0 454.7 866.3 447.3C872.6 439.8 881.2 434.2 889.2 429.1C897.2 424.0 905.4 420.1 914.1 416.5C922.8 413.0 932.1 410.2 941.4 407.7C950.7 405.2 960.3 403.5 970.0 401.7C979.7 399.8 994.7 397.4 999.7 396.6M839.0 628.0C839.0 622.8 839.0 607.2 839.0 596.9C839.1 586.5 839.2 576.1 839.3 565.7C839.4 555.4 838.6 544.8 839.7 534.6C840.8 524.4 843.3 514.2 846.1 504.5C848.9 494.7 852.3 485.2 856.5 476.0C860.6 466.9 864.8 457.1 870.9 449.7C877.0 442.3 885.3 436.7 893.1 431.5C900.8 426.4 908.7 422.4 917.2 418.8C925.6 415.1 934.6 412.2 943.7 409.6C952.8 407.0 962.2 405.2 971.7 403.3C981.1 401.3 995.9 398.8 1000.7 397.9M844.9 628.0C844.9 622.9 844.9 607.5 844.9 597.3C845.0 587.1 845.1 576.9 845.2 566.6C845.3 556.4 844.4 546.0 845.5 536.0C846.6 525.9 848.9 515.9 851.6 506.3C854.3 496.6 857.6 487.2 861.6 478.2C865.6 469.2 869.7 459.5 875.5 452.1C881.4 444.8 889.5 439.2 896.9 434.0C904.4 428.8 912.1 424.7 920.2 421.0C928.4 417.3 937.2 414.3 946.0 411.6C954.9 408.9 964.0 406.9 973.3 404.9C982.6 402.8 997.0 400.2 1001.7 399.2M850.8 628.0C850.8 623.0 850.8 607.9 850.8 597.8C850.9 587.7 851.0 577.6 851.0 567.6C851.1 557.5 850.3 547.3 851.3 537.4C852.3 527.4 854.5 517.6 857.1 508.1C859.7 498.6 862.9 489.3 866.7 480.3C870.6 471.4 874.5 461.9 880.2 454.6C885.8 447.3 893.6 441.6 900.8 436.4C908.0 431.2 915.4 427.1 923.3 423.3C931.2 419.4 939.7 416.3 948.4 413.5C957.0 410.7 965.9 408.7 974.9 406.5C984.0 404.3 998.1 401.5 1002.8 400.5M856.7 628.0C856.7 623.0 856.7 608.2 856.7 598.2C856.7 588.3 856.8 578.4 856.9 568.5C856.9 558.6 856.1 548.5 857.1 538.7C858.0 529.0 860.1 519.2 862.6 509.9C865.1 500.5 868.2 491.3 871.9 482.5C875.5 473.7 879.3 464.3 884.8 457.0C890.2 449.8 897.7 444.1 904.6 438.9C911.6 433.6 918.7 429.4 926.4 425.5C934.0 421.6 942.3 418.4 950.7 415.5C959.0 412.6 967.7 410.4 976.6 408.1C985.4 405.8 999.3 402.9 1003.8 401.9M862.7 628.0C862.7 623.1 862.6 608.5 862.6 598.7C862.6 588.9 862.7 579.2 862.7 569.4C862.8 559.6 862.0 549.7 862.9 540.1C863.8 530.5 865.8 520.9 868.1 511.7C870.5 502.4 873.4 493.4 877.0 484.7C880.5 476.0 884.1 466.7 889.4 459.5C894.6 452.3 901.8 446.6 908.5 441.3C915.2 436.0 922.0 431.7 929.4 427.7C936.8 423.8 944.8 420.4 953.0 417.4C961.1 414.4 969.6 412.1 978.2 409.7C986.9 407.4 1000.4 404.3 1004.9 403.2M868.6 628.0C868.6 623.2 868.5 608.8 868.5 599.2C868.5 589.5 868.6 579.9 868.6 570.3C868.6 560.7 867.8 551.0 868.7 541.5C869.5 532.0 871.4 522.6 873.6 513.5C875.9 504.4 878.7 495.4 882.1 486.8C885.5 478.2 888.9 469.1 894.0 461.9C899.0 454.7 905.9 449.1 912.3 443.7C918.7 438.4 925.3 434.1 932.5 430.0C939.6 425.9 947.4 422.5 955.3 419.4C963.2 416.3 971.4 413.8 979.9 411.3C988.3 408.9 1001.6 405.7 1005.9 404.5M874.5 628.0C874.5 623.3 874.4 609.1 874.4 599.6C874.4 590.1 874.4 580.7 874.4 571.2C874.4 561.8 873.7 552.2 874.4 542.9C875.2 533.5 877.0 524.2 879.1 515.3C881.3 506.3 884.0 497.5 887.2 489.0C890.5 480.5 893.8 471.5 898.6 464.4C903.4 457.2 910.0 451.5 916.2 446.2C922.3 440.8 928.6 436.4 935.5 432.2C942.4 428.1 949.9 424.5 957.6 421.3C965.3 418.1 973.3 415.5 981.5 413.0C989.7 410.4 1002.7 407.0 1007.0 405.8M880.5 628.0C880.4 623.3 880.3 609.4 880.3 600.1C880.3 590.8 880.3 581.4 880.3 572.1C880.3 562.8 879.5 553.4 880.2 544.2C881.0 535.1 882.6 525.9 884.6 517.1C886.7 508.2 889.3 499.5 892.4 491.1C895.5 482.8 898.6 473.9 903.2 466.8C907.8 459.7 914.1 454.0 920.0 448.6C925.9 443.2 932.0 438.7 938.6 434.5C945.2 430.3 952.5 426.6 959.9 423.3C967.4 420.0 975.1 417.3 983.2 414.6C991.2 411.9 1003.9 408.4 1008.0 407.2M886.4 628.0C886.4 623.4 886.2 609.7 886.2 600.5C886.1 591.4 886.1 582.2 886.1 573.1C886.1 563.9 885.3 554.6 886.0 545.6C886.7 536.6 888.2 527.6 890.2 518.9C892.1 510.1 894.5 501.6 897.5 493.3C900.4 485.0 903.4 476.3 907.8 469.3C912.2 462.2 918.3 456.5 923.9 451.1C929.5 445.6 935.3 441.0 941.7 436.7C948.0 432.4 955.0 428.7 962.2 425.2C969.4 421.8 977.0 419.0 984.8 416.2C992.6 413.4 1005.0 409.8 1009.1 408.5M892.3 628.0C892.3 623.5 892.1 610.0 892.1 601.0C892.0 592.0 892.0 583.0 892.0 574.0C891.9 565.0 891.2 555.9 891.8 547.0C892.4 538.1 893.9 529.2 895.7 520.7C897.5 512.1 899.8 503.6 902.6 495.5C905.4 487.3 908.2 478.7 912.4 471.7C916.6 464.7 922.4 459.0 927.8 453.5C933.1 448.0 938.6 443.4 944.7 439.0C950.8 434.6 957.6 430.7 964.6 427.2C971.5 423.7 978.9 420.7 986.4 417.8C994.0 414.9 1006.2 411.1 1010.1 409.8M898.3 628.0C898.2 623.6 898.0 610.3 898.0 601.4C897.9 592.6 897.9 583.7 897.8 574.9C897.7 566.0 897.0 557.1 897.6 548.4C898.1 539.6 899.5 530.9 901.2 522.5C902.9 514.0 905.1 505.7 907.7 497.6C910.4 489.6 913.1 481.1 917.0 474.2C921.0 467.2 926.5 461.4 931.6 455.9C936.7 450.5 941.9 445.7 947.8 441.2C953.7 436.8 960.1 432.8 966.9 429.1C973.6 425.5 980.7 422.4 988.1 419.4C995.5 416.4 1007.3 412.5 1011.2 411.1M904.2 628.0C904.1 623.7 903.9 610.6 903.9 601.9C903.8 593.2 903.7 584.5 903.7 575.8C903.6 567.1 902.9 558.3 903.4 549.7C903.9 541.1 905.1 532.6 906.7 524.3C908.3 515.9 910.4 507.7 912.9 499.8C915.4 491.8 917.9 483.5 921.6 476.6C925.4 469.7 930.6 463.9 935.5 458.4C940.3 452.9 945.2 448.0 950.8 443.5C956.5 438.9 962.7 434.8 969.2 431.1C975.7 427.3 982.6 424.1 989.7 421.0C996.9 417.9 1008.5 413.9 1012.2 412.5M910.1 628.0C910.1 623.7 909.9 610.9 909.8 602.4C909.7 593.8 909.6 585.3 909.5 576.7C909.4 568.2 908.7 559.6 909.2 551.1C909.6 542.7 910.7 534.2 912.2 526.1C913.7 517.9 915.6 509.8 918.0 501.9C920.3 494.1 922.7 485.9 926.2 479.0C929.8 472.2 934.7 466.4 939.3 460.8C943.9 455.3 948.5 450.3 953.9 445.7C959.3 441.1 965.2 436.9 971.5 433.0C977.7 429.2 984.4 425.9 991.4 422.6C998.3 419.4 1009.6 415.3 1013.3 413.8M916.0 628.0C916.0 623.8 915.8 611.2 915.6 602.8C915.5 594.4 915.5 586.0 915.4 577.6C915.2 569.3 914.6 560.8 914.9 552.5C915.3 544.2 916.3 535.9 917.7 527.9C919.1 519.8 920.9 511.8 923.1 504.1C925.3 496.4 927.5 488.3 930.9 481.5C934.2 474.7 938.8 468.9 943.2 463.3C947.5 457.7 951.8 452.7 957.0 448.0C962.1 443.2 967.8 438.9 973.8 435.0C979.8 431.0 986.3 427.6 993.0 424.3C999.8 421.0 1010.8 416.6 1014.3 415.1M922.0 628.0C921.9 623.9 921.7 611.5 921.5 603.3C921.4 595.0 921.3 586.8 921.2 578.6C921.1 570.3 920.4 562.0 920.7 553.9C921.1 545.7 922.0 537.6 923.2 529.6C924.5 521.7 926.2 513.9 928.2 506.3C930.3 498.6 932.3 490.7 935.5 483.9C938.6 477.2 942.9 471.3 947.0 465.7C951.1 460.1 955.2 455.0 960.0 450.2C964.9 445.4 970.3 441.0 976.1 436.9C981.9 432.9 988.1 429.3 994.7 425.9C1001.2 422.5 1011.9 418.0 1015.3 416.4M927.9 628.0C927.8 624.0 927.6 611.8 927.4 603.7C927.3 595.6 927.2 587.6 927.1 579.5C926.9 571.4 926.2 563.2 926.5 555.2C926.8 547.2 927.6 539.2 928.7 531.4C929.9 523.6 931.5 515.9 933.4 508.4C935.3 500.9 937.2 493.1 940.1 486.4C943.0 479.7 947.1 473.8 950.9 468.1C954.7 462.5 958.5 457.3 963.1 452.4C967.7 447.6 972.9 443.0 978.4 438.9C984.0 434.7 990.0 431.0 996.3 427.5C1002.6 424.0 1013.0 419.4 1016.4 417.8M933.8 628.0C933.8 624.0 933.5 612.1 933.3 604.2C933.2 596.3 933.1 588.3 932.9 580.4C932.7 572.5 932.1 564.5 932.3 556.6C932.5 548.7 933.2 540.9 934.2 533.2C935.3 525.6 936.7 518.0 938.5 510.6C940.2 503.2 942.0 495.5 944.7 488.8C947.4 482.2 951.2 476.3 954.7 470.6C958.3 464.9 961.8 459.6 966.1 454.7C970.5 449.7 975.4 445.1 980.7 440.8C986.1 436.6 991.8 432.7 998.0 429.1C1004.1 425.5 1014.2 420.8 1017.4 419.1M939.8 628.0C939.7 624.1 939.4 612.4 939.2 604.7C939.0 596.9 938.9 589.1 938.7 581.3C938.6 573.5 937.9 565.7 938.1 558.0C938.3 550.3 938.8 542.6 939.7 535.0C940.7 527.5 942.0 520.0 943.6 512.7C945.2 505.4 946.8 497.9 949.3 491.3C951.8 484.6 955.3 478.8 958.6 473.0C961.9 467.3 965.1 462.0 969.2 456.9C973.3 451.9 978.0 447.2 983.1 442.8C988.1 438.4 993.7 434.5 999.6 430.7C1005.5 427.0 1015.3 422.1 1018.5 420.4M945.7 628.0C945.6 624.2 945.3 612.7 945.1 605.1C944.9 597.5 944.8 589.8 944.6 582.2C944.4 574.6 943.8 566.9 943.9 559.4C944.0 551.8 944.4 544.2 945.3 536.8C946.1 529.4 947.3 522.1 948.7 514.9C950.2 507.7 951.6 500.3 953.9 493.7C956.2 487.1 959.4 481.2 962.5 475.5C965.5 469.7 968.4 464.3 972.2 459.2C976.1 454.1 980.5 449.2 985.4 444.7C990.2 440.3 995.5 436.2 1001.2 432.3C1006.9 428.5 1016.5 423.5 1019.5 421.7M951.6 628.0C951.5 624.3 951.2 613.0 951.0 605.6C950.8 598.1 950.7 590.6 950.4 583.1C950.2 575.7 949.6 568.1 949.7 560.7C949.7 553.3 950.1 545.9 950.8 538.6C951.5 531.4 952.6 524.1 953.9 517.1C955.2 510.0 956.4 502.7 958.5 496.2C960.6 489.6 963.5 483.7 966.3 477.9C969.1 472.1 971.7 466.6 975.3 461.4C978.9 456.2 983.1 451.3 987.7 446.7C992.3 442.1 997.4 437.9 1002.9 434.0C1008.4 430.0 1017.6 424.9 1020.6 423.1M957.6 628.0C957.4 624.3 957.1 613.4 956.9 606.0C956.7 598.7 956.5 591.4 956.3 584.1C956.0 576.7 955.4 569.4 955.4 562.1C955.4 554.8 955.7 547.6 956.3 540.4C956.9 533.3 957.9 526.2 959.0 519.2C960.1 512.2 961.3 505.1 963.1 498.6C965.0 492.1 967.6 486.2 970.2 480.4C972.7 474.5 975.1 469.0 978.4 463.7C981.7 458.4 985.6 453.3 990.0 448.6C994.4 444.0 999.3 439.6 1004.5 435.6C1009.8 431.5 1018.8 426.3 1021.6 424.4M963.5 628.0C963.4 624.4 963.0 613.7 962.8 606.5C962.6 599.3 962.4 592.1 962.1 585.0C961.9 577.8 961.3 570.6 961.2 563.5C961.2 556.4 961.3 549.2 961.8 542.2C962.3 535.2 963.1 528.2 964.1 521.4C965.1 514.5 966.1 507.5 967.7 501.0C969.4 494.6 971.7 488.6 974.0 482.8C976.3 476.9 978.4 471.3 981.4 465.9C984.5 460.6 988.2 455.4 992.3 450.6C996.4 445.8 1001.1 441.3 1006.2 437.2C1011.2 433.0 1019.9 427.6 1022.7 425.7M969.4 628.0C969.3 624.5 968.9 614.0 968.7 606.9C968.4 599.9 968.3 592.9 968.0 585.9C967.7 578.9 967.1 571.8 967.0 564.9C966.9 557.9 966.9 550.9 967.3 544.0C967.7 537.1 968.4 530.3 969.2 523.5C970.1 516.8 970.9 509.9 972.3 503.5C973.8 497.1 975.9 491.1 977.9 485.2C979.9 479.3 981.7 473.6 984.5 468.2C987.3 462.7 990.7 457.4 994.6 452.5C998.5 447.6 1003.0 443.0 1007.8 438.8C1012.7 434.5 1021.1 429.0 1023.7 427.0M975.3 628.0C975.2 624.6 974.8 614.3 974.6 607.4C974.3 600.5 974.1 593.7 973.8 586.8C973.5 579.9 973.0 573.1 972.8 566.2C972.6 559.4 972.5 552.6 972.8 545.8C973.1 539.1 973.7 532.3 974.4 525.7C975.1 519.0 975.7 512.3 977.0 505.9C978.2 499.6 980.0 493.6 981.7 487.7C983.5 481.8 985.0 475.9 987.5 470.4C990.1 464.9 993.3 459.5 996.9 454.5C1000.6 449.5 1004.8 444.8 1009.5 440.4C1014.1 436.1 1022.2 430.4 1024.8 428.4M981.3 628.0C981.1 624.6 980.7 614.6 980.5 607.9C980.2 601.1 980.0 594.4 979.7 587.7C979.4 581.0 978.8 574.3 978.6 567.6C978.4 560.9 978.2 554.2 978.3 547.6C978.5 541.0 979.0 534.4 979.5 527.9C980.0 521.3 980.5 514.7 981.6 508.4C982.6 502.1 984.1 496.1 985.6 490.1C987.1 484.2 988.3 478.3 990.6 472.7C992.9 467.0 995.8 461.5 999.3 456.4C1002.7 451.3 1006.7 446.5 1011.1 442.0C1015.5 437.6 1023.4 431.8 1025.8 429.7M987.2 628.0C987.1 624.7 986.6 614.9 986.4 608.3C986.1 601.8 985.9 595.2 985.5 588.6C985.2 582.1 984.7 575.5 984.4 569.0C984.1 562.4 983.8 555.9 983.8 549.4C983.9 542.9 984.2 536.4 984.6 530.0C985.0 523.6 985.4 517.1 986.2 510.8C987.0 504.6 988.2 498.5 989.4 492.6C990.7 486.6 991.6 480.6 993.7 474.9C995.7 469.2 998.4 463.6 1001.6 458.4C1004.8 453.2 1008.5 448.2 1012.7 443.6C1017.0 439.1 1024.5 433.1 1026.9 431.0M993.1 628.0C993.0 624.8 992.5 615.2 992.3 608.8C992.0 602.4 991.7 596.0 991.4 589.6C991.0 583.1 990.5 576.7 990.2 570.3C989.8 564.0 989.4 557.6 989.3 551.2C989.3 544.9 989.5 538.5 989.7 532.2C990.0 525.9 990.2 519.5 990.8 513.3C991.4 507.1 992.3 501.0 993.3 495.0C994.3 489.0 995.0 482.9 996.7 477.1C998.5 471.4 1000.9 465.7 1003.9 460.3C1006.8 455.0 1010.4 449.9 1014.4 445.3C1018.4 440.6 1025.7 434.5 1027.9 432.3M999.1 628.0C998.9 624.9 998.5 615.5 998.1 609.2C997.8 603.0 997.6 596.7 997.2 590.5C996.9 584.2 996.3 578.0 995.9 571.7C995.6 565.5 995.0 559.2 994.9 553.0C994.7 546.8 994.8 540.6 994.9 534.3C995.0 528.1 995.0 521.9 995.4 515.7C995.8 509.6 996.4 503.5 997.2 497.4C997.9 491.4 998.3 485.2 999.8 479.4C1001.3 473.5 1003.5 467.7 1006.2 462.3C1008.9 456.9 1012.2 451.6 1016.0 446.9C1019.8 442.1 1026.8 435.9 1029.0 433.7M1005.0 628.0C1004.8 624.9 1004.4 615.8 1004.0 609.7C1003.7 603.6 1003.5 597.5 1003.1 591.4C1002.7 585.3 1002.2 579.2 1001.7 573.1C1001.3 567.0 1000.6 560.9 1000.4 554.8C1000.1 548.7 1000.1 542.6 1000.0 536.5C999.9 530.4 999.8 524.3 1000.0 518.2C1000.2 512.1 1000.5 506.0 1001.0 499.9C1001.5 493.8 1001.6 487.6 1002.8 481.6C1004.1 475.7 1006.0 469.8 1008.5 464.2C1011.0 458.7 1014.1 453.4 1017.7 448.5C1021.3 443.6 1027.9 437.2 1030.0 435.0" fill="none" stroke="#000" stroke-width="1.25" opacity="0.1"/>
<g mask="url(#fade)"><path d="M1003 628L1000 470L1400 400C1460 430 1500 520 1506 628L1506 1195L1404 1195L1404 628Z" fill="#fff" opacity="0.3"/></g>
<path d="M982.0 470C996.0 520 1007.0 580 1014.0 628M989.0 470C1003.0 520 1014.0 580 1021.0 628M996.0 470C1010.0 520 1021.0 580 1028.0 628M1003.0 470C1017.0 520 1028.0 580 1035.0 628M1010.0 470C1024.0 520 1035.0 580 1042.0 628M1017.0 470C1031.0 520 1042.0 580 1049.0 628M1024.0 470C1038.0 520 1049.0 580 1056.0 628M1031.0 470C1045.0 520 1056.0 580 1063.0 628M1038.0 470C1052.0 520 1063.0 580 1070.0 628M1045.0 470C1059.0 520 1070.0 580 1077.0 628M1052.0 470C1066.0 520 1077.0 580 1084.0 628M1059.0 470C1073.0 520 1084.0 580 1091.0 628M1066.0 470C1080.0 520 1091.0 580 1098.0 628M1073.0 470C1087.0 520 1098.0 580 1105.0 628M1080.0 470C1094.0 520 1105.0 580 1112.0 628M1087.0 470C1101.0 520 1112.0 580 1119.0 628M1094.0 470C1108.0 520 1119.0 580 1126.0 628M1101.0 470C1115.0 520 1126.0 580 1133.0 628M1108.0 470C1122.0 520 1133.0 580 1140.0 628M1115.0 470C1129.0 520 1140.0 580 1147.0 628M1122.0 470C1136.0 520 1147.0 580 1154.0 628M1129.0 470C1143.0 520 1154.0 580 1161.0 628M1136.0 470C1150.0 520 1161.0 580 1168.0 628M1143.0 470C1157.0 520 1168.0 580 1175.0 628M1150.0 470C1164.0 520 1175.0 580 1182.0 628M1157.0 470C1171.0 520 1182.0 580 1189.0 628M1164.0 470C1178.0 520 1189.0 580 1196.0 628M1171.0 470C1185.0 520 1196.0 580 1203.0 628M1178.0 470C1192.0 520 1203.0 580 1210.0 628M1185.0 470C1199.0 520 1210.0 580 1217.0 628M1192.0 470C1206.0 520 1217.0 580 1224.0 628M1199.0 470C1213.0 520 1224.0 580 1231.0 628M1206.0 470C1220.0 520 1231.0 580 1238.0 628M1213.0 470C1227.0 520 1238.0 580 1245.0 628M1220.0 470C1234.0 520 1245.0 580 1252.0 628M1227.0 470C1241.0 520 1252.0 580 1259.0 628M1234.0 470C1248.0 520 1259.0 580 1266.0 628M1241.0 470C1255.0 520 1266.0 580 1273.0 628M1248.0 470C1262.0 520 1273.0 580 1280.0 628M1255.0 470C1269.0 520 1280.0 580 1287.0 628M1262.0 470C1276.0 520 1287.0 580 1294.0 628M1269.0 470C1283.0 520 1294.0 580 1301.0 628M1276.0 470C1290.0 520 1301.0 580 1308.0 628M1283.0 470C1297.0 520 1308.0 580 1315.0 628M1290.0 470C1304.0 520 1315.0 580 1322.0 628M1297.0 470C1311.0 520 1322.0 580 1329.0 628M1304.0 470C1318.0 520 1329.0 580 1336.0 628M1311.0 470C1325.0 520 1336.0 580 1343.0 628M1318.0 470C1332.0 520 1343.0 580 1350.0 628M1325.0 470C1339.0 520 1350.0 580 1357.0 628M1332.0 470C1346.0 520 1357.0 580 1364.0 628M1339.0 470C1353.0 520 1364.0 580 1371.0 628M1346.0 470C1360.0 520 1371.0 580 1378.0 628M1353.0 470C1367.0 520 1378.0 580 1385.0 628M1360.0 470C1374.0 520 1385.0 580 1392.0 628M1367.0 470C1381.0 520 1392.0 580 1399.0 628M1374.0 470C1388.0 520 1399.0 580 1406.0 628M1381.0 470C1395.0 520 1406.0 580 1413.0 628" fill="none" stroke="#000" stroke-width="1.5" opacity="0.06"/>
<g mask="url(#fade)"><path d="M1395.0 430.0C1397.4 440.7 1406.2 472.4 1409.4 493.9C1412.6 515.5 1413.3 537.5 1414.4 559.3C1415.5 581.2 1415.8 603.1 1415.9 624.9C1416.1 646.8 1415.5 668.7 1415.3 690.6C1415.0 712.5 1414.8 734.3 1414.5 756.2C1414.2 778.1 1413.9 800.0 1413.6 821.8C1413.2 843.7 1412.7 865.6 1412.3 887.5C1411.8 909.3 1411.4 931.2 1410.9 953.1C1410.5 975.0 1410.1 996.9 1409.8 1018.7C1409.4 1040.6 1409.2 1062.5 1408.9 1084.4C1408.6 1106.2 1408.1 1139.1 1408.0 1150.0M1398.5 426.2C1401.2 436.8 1411.1 468.4 1414.9 490.0C1418.6 511.7 1419.6 534.0 1421.0 556.0C1422.3 578.1 1422.5 600.3 1422.7 622.4C1422.9 644.5 1422.4 666.6 1422.3 688.8C1422.1 710.9 1421.8 733.0 1421.5 755.2C1421.3 777.3 1421.0 799.4 1420.7 821.5C1420.3 843.7 1419.8 865.8 1419.4 887.9C1418.9 910.0 1418.5 932.2 1418.1 954.3C1417.6 976.4 1417.2 998.6 1416.9 1020.7C1416.5 1042.8 1416.3 1064.9 1416.0 1087.1C1415.7 1109.2 1415.2 1142.4 1415.1 1153.5M1401.9 422.3C1405.0 432.9 1416.1 464.4 1420.4 486.1C1424.6 507.8 1425.9 530.4 1427.5 552.7C1429.0 575.0 1429.2 597.4 1429.5 619.8C1429.8 642.2 1429.4 664.6 1429.2 686.9C1429.1 709.3 1428.8 731.7 1428.6 754.1C1428.3 776.5 1428.1 798.9 1427.7 821.2C1427.4 843.6 1426.9 866.0 1426.5 888.4C1426.0 910.7 1425.6 933.1 1425.2 955.5C1424.8 977.9 1424.3 1000.3 1424.0 1022.6C1423.6 1045.0 1423.4 1067.4 1423.1 1089.8C1422.8 1112.2 1422.3 1145.7 1422.2 1156.9M1405.4 418.5C1408.8 429.1 1421.1 460.4 1425.9 482.2C1430.6 504.0 1432.2 526.9 1434.0 549.4C1435.7 571.9 1435.9 594.6 1436.2 617.3C1436.6 639.9 1436.3 662.5 1436.2 685.1C1436.1 707.8 1435.9 730.4 1435.6 753.0C1435.4 775.7 1435.2 798.3 1434.8 820.9C1434.5 843.6 1434.0 866.2 1433.6 888.8C1433.1 911.4 1432.7 934.1 1432.3 956.7C1431.9 979.3 1431.5 1002.0 1431.1 1024.6C1430.8 1047.2 1430.5 1069.9 1430.2 1092.5C1429.9 1115.1 1429.4 1149.1 1429.2 1160.4M1408.8 414.6C1412.6 425.2 1426.1 456.4 1431.4 478.3C1436.6 500.2 1438.5 523.4 1440.5 546.1C1442.4 568.8 1442.6 591.8 1443.0 614.7C1443.5 637.6 1443.2 660.4 1443.2 683.3C1443.1 706.2 1442.9 729.1 1442.7 752.0C1442.4 774.9 1442.3 797.7 1441.9 820.6C1441.6 843.5 1441.1 866.4 1440.7 889.3C1440.2 912.1 1439.8 935.0 1439.4 957.9C1439.0 980.8 1438.6 1003.7 1438.2 1026.6C1437.9 1049.4 1437.6 1072.3 1437.3 1095.2C1436.9 1118.1 1436.5 1152.4 1436.3 1163.8M1412.3 410.8C1416.4 421.4 1431.1 452.4 1436.9 474.4C1442.6 496.4 1444.8 519.9 1447.0 542.8C1449.2 565.8 1449.3 589.0 1449.8 612.1C1450.3 635.2 1450.2 658.4 1450.2 681.5C1450.2 704.6 1449.9 727.8 1449.7 750.9C1449.5 774.0 1449.3 797.2 1449.0 820.3C1448.7 843.4 1448.2 866.6 1447.8 889.7C1447.4 912.8 1446.9 936.0 1446.5 959.1C1446.1 982.2 1445.7 1005.4 1445.4 1028.5C1445.0 1051.6 1444.7 1074.8 1444.4 1097.9C1444.0 1121.0 1443.5 1155.7 1443.4 1167.3M1415.8 406.9C1420.2 417.5 1436.1 448.4 1442.4 470.5C1448.6 492.6 1451.1 516.3 1453.5 539.5C1455.9 562.7 1456.0 586.2 1456.6 609.6C1457.2 632.9 1457.1 656.3 1457.1 679.7C1457.2 703.1 1456.9 726.5 1456.7 749.9C1456.6 773.2 1456.4 796.6 1456.1 820.0C1455.8 843.4 1455.3 866.8 1454.9 890.2C1454.5 913.5 1454.0 936.9 1453.6 960.3C1453.2 983.7 1452.8 1007.1 1452.5 1030.5C1452.1 1053.8 1451.8 1077.2 1451.5 1100.6C1451.1 1124.0 1450.6 1159.1 1450.5 1170.8M1419.2 403.1C1424.0 413.7 1441.0 444.4 1447.8 466.6C1454.6 488.8 1457.4 512.8 1460.0 536.2C1462.6 559.6 1462.7 583.4 1463.3 607.0C1464.0 630.6 1464.1 654.2 1464.1 677.9C1464.2 701.5 1463.9 725.2 1463.8 748.8C1463.6 772.4 1463.5 796.1 1463.2 819.7C1462.9 843.3 1462.4 867.0 1462.0 890.6C1461.6 914.2 1461.2 937.9 1460.8 961.5C1460.4 985.1 1460.0 1008.8 1459.6 1032.4C1459.2 1056.1 1458.9 1079.7 1458.6 1103.3C1458.2 1127.0 1457.7 1162.4 1457.5 1174.2M1422.7 399.2C1427.8 409.8 1446.0 440.4 1453.3 462.7C1460.6 485.0 1463.7 509.3 1466.5 532.9C1469.3 556.5 1469.4 580.6 1470.1 604.4C1470.9 628.3 1471.0 652.2 1471.1 676.1C1471.2 700.0 1470.9 723.8 1470.8 747.7C1470.7 771.6 1470.6 795.5 1470.3 819.4C1470.0 843.3 1469.5 867.2 1469.1 891.1C1468.7 914.9 1468.3 938.8 1467.9 962.7C1467.5 986.6 1467.1 1010.5 1466.7 1034.4C1466.3 1058.3 1466.0 1082.1 1465.7 1106.0C1465.3 1129.9 1464.8 1165.7 1464.6 1177.7M1426.2 395.4C1431.6 406.0 1451.0 436.4 1458.8 458.8C1466.6 481.2 1470.0 505.8 1473.1 529.6C1476.1 553.5 1476.0 577.8 1476.9 601.9C1477.7 626.0 1477.9 650.1 1478.1 674.3C1478.2 698.4 1478.0 722.5 1477.8 746.7C1477.7 770.8 1477.6 795.0 1477.4 819.1C1477.1 843.2 1476.6 867.4 1476.2 891.5C1475.8 915.6 1475.4 939.8 1475.0 963.9C1474.6 988.1 1474.2 1012.2 1473.8 1036.3C1473.5 1060.5 1473.1 1084.6 1472.8 1108.7C1472.4 1132.9 1471.9 1169.1 1471.7 1181.2M1429.6 391.5C1435.4 402.1 1456.0 432.5 1464.3 454.9C1472.7 477.4 1476.3 502.2 1479.6 526.3C1482.8 550.4 1482.7 575.0 1483.7 599.3C1484.6 623.7 1484.9 648.1 1485.1 672.4C1485.3 696.8 1485.0 721.2 1484.9 745.6C1484.8 770.0 1484.7 794.4 1484.5 818.8C1484.2 843.2 1483.7 867.6 1483.3 892.0C1482.9 916.3 1482.5 940.7 1482.1 965.1C1481.7 989.5 1481.3 1013.9 1481.0 1038.3C1480.6 1062.7 1480.2 1087.1 1479.9 1111.4C1479.5 1135.8 1479.0 1172.4 1478.8 1184.6M1433.1 387.7C1439.2 398.2 1461.0 428.5 1469.8 451.0C1478.7 473.6 1482.6 498.7 1486.1 523.0C1489.5 547.3 1489.4 572.1 1490.4 596.7C1491.4 621.4 1491.8 646.0 1492.0 670.6C1492.3 695.3 1492.0 719.9 1491.9 744.6C1491.8 769.2 1491.8 793.8 1491.6 818.5C1491.3 843.1 1490.8 867.8 1490.4 892.4C1490.0 917.0 1489.6 941.7 1489.2 966.3C1488.8 991.0 1488.5 1015.6 1488.1 1040.2C1487.7 1064.9 1487.3 1089.5 1487.0 1114.2C1486.6 1138.8 1486.0 1175.8 1485.8 1188.1M1436.5 383.8C1443.0 394.4 1466.0 424.5 1475.3 447.1C1484.7 469.8 1488.9 495.2 1492.6 519.7C1496.2 544.2 1496.1 569.3 1497.2 594.2C1498.3 619.0 1498.7 643.9 1499.0 668.8C1499.3 693.7 1499.0 718.6 1499.0 743.5C1498.9 768.4 1498.9 793.3 1498.6 818.2C1498.4 843.1 1497.9 868.0 1497.5 892.8C1497.1 917.7 1496.7 942.6 1496.4 967.5C1496.0 992.4 1495.6 1017.3 1495.2 1042.2C1494.8 1067.1 1494.4 1092.0 1494.1 1116.9C1493.7 1141.8 1493.1 1179.1 1492.9 1191.5M1440.0 380.0C1446.8 390.5 1471.0 420.5 1480.8 443.2C1490.7 466.0 1495.2 491.7 1499.1 516.4C1503.0 541.1 1502.8 566.5 1504.0 591.6C1505.1 616.7 1505.7 641.9 1506.0 667.0C1506.3 692.1 1506.0 717.3 1506.0 742.4C1506.0 767.6 1506.0 792.7 1505.7 817.9C1505.5 843.0 1505.0 868.2 1504.6 893.3C1504.2 918.4 1503.8 943.6 1503.5 968.7C1503.1 993.9 1502.7 1019.0 1502.3 1044.1C1501.9 1069.3 1501.5 1094.4 1501.2 1119.6C1500.8 1144.7 1500.2 1182.4 1500.0 1195.0" fill="none" stroke="#000" stroke-width="1.4" opacity="0.06"/></g>
<rect x="1504.5" y="0" width="4" height="1195" fill="#f5f5f5"/>
<rect x="1508.5" y="0" width="2.5" height="1195" fill="#dddddd"/>
<rect x="216" y="0" width="1288" height="7.5" fill="#ebebeb"/>
<rect x="216" y="1.3" width="1288" height="1.6" fill="#f5f5f5"/>
<rect x="216" y="4.9" width="1288" height="2" fill="#f5f5f5"/>
<!-- left strip -->
<g filter="url(#b1)">
<rect x="-5" y="430" width="72.5" height="46" fill="#dfdfdf"/>
<rect x="-5" y="476" width="73.5" height="47.5" fill="#d0d0d0"/>
<rect x="-5" y="523.5" width="72.5" height="47.5" fill="#dfdfdf"/>
<rect x="-5" y="571" width="73.5" height="49.5" fill="#d0d0d0"/>
<rect x="-5" y="620.5" width="72.5" height="47.5" fill="#dfdfdf"/>
<rect x="-5" y="668" width="73.5" height="49" fill="#d0d0d0"/>
<rect x="-5" y="717" width="72.5" height="49" fill="#dfdfdf"/>
</g>
<rect x="0" y="0" width="1.2" height="1195" fill="#000" opacity="0.09"/>
<rect x="1.4" y="0" width="1.8" height="1195" fill="#fff" opacity="0.3"/>
<rect x="3.4" y="0" width="0.8" height="1195" fill="#000" opacity="0.05"/>
<rect x="4.4" y="0" width="2" height="1195" fill="#fff" opacity="0.3"/>
<!-- bottom strip -->
<rect x="202.5" y="1176" width="20" height="19" fill="#6e6e6e"/>
<rect x="222.5" y="1176" width="20" height="19" fill="#b2b2b2"/>
<rect x="242.5" y="1176" width="20" height="19" fill="#6e6e6e"/>
<rect x="262.5" y="1176" width="20" height="19" fill="#d2d2d2"/>
<rect x="282.5" y="1176" width="20" height="19" fill="#6e6e6e"/>
<rect x="302.5" y="1176" width="20" height="19" fill="#c2c2c2"/>
<rect x="322.5" y="1176" width="20" height="19" fill="#6e6e6e"/>
<rect x="343" y="1154.7" width="25" height="21.5" fill="#111"/>
<!-- bullets -->
<g fill="#1b6b88">
<rect x="202.7" y="371" width="8.6" height="8.6"/>
<rect x="202.7" y="398.4" width="8.6" height="8.6"/>
<rect x="202.7" y="425.7" width="8.6" height="8.6"/>
<rect x="202.7" y="453.1" width="8.6" height="8.6"/>
<rect x="202.7" y="480.4" width="8.6" height="8.6"/>
<rect x="202.7" y="507.8" width="8.6" height="8.6"/>
<rect x="202.7" y="535.1" width="8.6" height="8.6"/>
</g>
<!-- venn -->
<g>
<ellipse cx="1225" cy="474" rx="195" ry="32" fill="#000" opacity="0.14" filter="url(#sh)"/><ellipse cx="1398" cy="442" rx="32" ry="42" fill="#000" opacity="0.08" filter="url(#sh)"/>
<circle cx="1191" cy="215" r="160.5" fill="#fff"/>
<circle cx="1120" cy="342" r="160.5" fill="#fff"/>
<circle cx="1262" cy="342" r="160.5" fill="#fff"/>
<circle cx="1191" cy="215" r="140.5" fill="#7fd4f6"/>
<circle cx="1120" cy="342" r="140.5" fill="#fbb98e"/>
<circle cx="1262" cy="342" r="140.5" fill="#80d4b0"/>
<circle cx="1120" cy="342" r="140.5" fill="#78b7cb" clip-path="url(#cb)"/>
<circle cx="1262" cy="342" r="140.5" fill="#3fbfd1" clip-path="url(#cb)"/>
<circle cx="1262" cy="342" r="140.5" fill="#7fb67f" clip-path="url(#co)"/>
<g clip-path="url(#cb)"><circle cx="1262" cy="342" r="140.5" fill="#27a085" clip-path="url(#co)"/></g>
</g>
<!-- flow box -->
<rect x="106.2" y="625.1" width="1298.4" height="451.9" fill="#f6c936"/>
<rect x="112.4" y="631" width="1285.8" height="440.1" fill="#fff"/>
<rect x="230" y="629.4" width="1050" height="1.6" fill="#bfa978"/>
<rect x="230" y="625" width="1050" height="4.4" fill="#e9c457"/>
<rect x="493.7" y="609.3" width="522.6" height="41.1" fill="#a6ce3a"/>
<!-- teal lines -->
<g fill="#155f7a">
<rect x="311.3" y="684.8" width="887" height="4.8"/>
<rect x="311.3" y="684.8" width="5" height="65"/>
<rect x="1193.9" y="684.8" width="4.4" height="65"/>
<rect x="753.2" y="666" width="3" height="72"/>
<rect x="311.3" y="802.2" width="5" height="28.6"/>
</g>
<!-- red lines -->
<g fill="#e5335c">
<rect x="311.1" y="929.6" width="887.2" height="4"/>
<rect x="311.1" y="929.6" width="4" height="16"/>
<rect x="543" y="929.6" width="3.8" height="16"/>
<rect x="753.1" y="803" width="3.3" height="142"/>
<rect x="961.6" y="929.6" width="3.8" height="16"/>
<rect x="1194.3" y="929.6" width="4" height="16"/>
<rect x="311.3" y="1009.6" width="3.8" height="22"/>
<rect x="1194.4" y="1009.3" width="3.8" height="22"/>
</g>
<!-- arrows -->
<g fill="#2a2a2a">
<path d="M304.2 747.7h19l-9.5 15.5z"/>
<path d="M745.7 736.4h19l-9.5 15.9z"/>
<path d="M1187.5 747.7h18.6l-9.3 15z"/>
<path d="M304.1 943.5h18.4l-9.2 15.9z"/>
<path d="M535.8 943.5h18.4l-9.2 15.9z"/>
<path d="M745.4 943.5h18.4l-9.2 15.9z"/>
<path d="M954.2 943.5h18.4l-9.2 15.9z"/>
<path d="M1187.2 943.2h18.6l-9.3 15.6z"/>
</g>
<!-- bottom boxes -->
<rect x="160" y="1038.3" width="304.2" height="62.7" fill="#0aa65a"/>
<rect x="499.2" y="1038.3" width="510" height="62.7" fill="#0e5f86"/>
<rect x="1039.6" y="1038.3" width="304.4" height="62.9" fill="#0aa65a"/>
</svg>
<span class="t" style="left:204.43px;top:143px;font-size:19.7px;font-weight:400;color:#1c1c1c;-webkit-text-stroke:0.774px #1c1c1c;transform:scaleX(0.9165)">The </span>
<span class="t" style="left:241.87px;top:143px;font-size:19.7px;font-weight:400;color:#1c1c1c;-webkit-text-stroke:0.706px #1c1c1c;transform:scaleX(0.9517)">Soil </span>
<span class="t" style="left:277.90px;top:143px;font-size:19.7px;font-weight:400;color:#1c1c1c;-webkit-text-stroke:0.578px #1c1c1c;transform:scaleX(1.0257)">Health </span>
<span class="t" style="left:341.90px;top:143px;font-size:19.7px;font-weight:400;color:#1c1c1c;-webkit-text-stroke:0.739px #1c1c1c;transform:scaleX(0.9342)">Card </span>
<span class="t" style="left:386.99px;top:143px;font-size:19.7px;font-weight:400;color:#1c1c1c;-webkit-text-stroke:0.493px #1c1c1c;transform:scaleX(1.0811)">initiative </span>
<span class="t" style="left:468.86px;top:143px;font-size:19.7px;font-weight:400;color:#1c1c1c;-webkit-text-stroke:0.817px #1c1c1c;transform:scaleX(0.8952)">is </span>
<span class="t" style="left:487.06px;top:143px;font-size:19.7px;font-weight:400;color:#1c1c1c;-webkit-text-stroke:0.903px #1c1c1c;transform:scaleX(0.8557)">a </span>
<span class="t" style="left:502.18px;top:143px;font-size:19.7px;font-weight:400;color:#1c1c1c;-webkit-text-stroke:0.548px #1c1c1c;transform:scaleX(1.0447)">part </span>
<span class="t" style="left:544.76px;top:143px;font-size:19.7px;font-weight:400;color:#1c1c1c;-webkit-text-stroke:0.575px #1c1c1c;transform:scaleX(1.0276)">of </span>
<span class="t" style="left:568.26px;top:143px;font-size:19.7px;font-weight:400;color:#1c1c1c;-webkit-text-stroke:0.62px #1c1c1c;transform:scaleX(1.0058)">scientific </span>
<span class="t" style="left:650.48px;top:143px;font-size:19.7px;font-weight:400;color:#1c1c1c;-webkit-text-stroke:0.706px #1c1c1c;transform:scaleX(0.9517)">Soil </span>
<span class="t" style="left:686.97px;top:143px;font-size:19.7px;font-weight:400;color:#1c1c1c;-webkit-text-stroke:0.578px #1c1c1c;transform:scaleX(1.0257)">Health </span>
<span class="t" style="left:750.66px;top:143px;font-size:19.7px;font-weight:400;color:#1c1c1c;-webkit-text-stroke:0.572px #1c1c1c;transform:scaleX(1.0292)">Management. </span>
<span class="t" style="left:203.15px;top:171px;font-size:19.7px;font-weight:400;color:#1c1c1c;-webkit-text-stroke:0.62px #1c1c1c;transform:scaleX(0.9848)">Presently, </span>
<span class="t" style="left:291.57px;top:171px;font-size:19.7px;font-weight:400;color:#1c1c1c;-webkit-text-stroke:0.725px #1c1c1c;transform:scaleX(0.9414)">the </span>
<span class="t" style="left:322.19px;top:171px;font-size:19.7px;font-weight:400;color:#1c1c1c;-webkit-text-stroke:0.62px #1c1c1c;transform:scaleX(1.0020)">card </span>
<span class="t" style="left:363.89px;top:171px;font-size:19.7px;font-weight:400;color:#1c1c1c;-webkit-text-stroke:0.62px #1c1c1c;transform:scaleX(1.0028)">contains </span>
<span class="t" style="left:440.29px;top:171px;font-size:19.7px;font-weight:400;color:#1c1c1c;-webkit-text-stroke:0.512px #1c1c1c;transform:scaleX(1.0684)">information </span>
<span class="t" style="left:547.76px;top:171px;font-size:19.7px;font-weight:400;color:#1c1c1c;-webkit-text-stroke:0.558px #1c1c1c;transform:scaleX(1.0383)">on </span>
<span class="t" style="left:573.54px;top:171px;font-size:19.7px;font-weight:400;color:#1c1c1c;-webkit-text-stroke:0.62px #1c1c1c;transform:scaleX(0.9838)">Electrical </span>
<span class="t" style="left:654.43px;top:171px;font-size:19.7px;font-weight:400;color:#1c1c1c;-webkit-text-stroke:0.527px #1c1c1c;transform:scaleX(1.0583)">Conductivity, </span>
<span class="t" style="left:773.52px;top:171px;font-size:19.7px;font-weight:400;color:#1c1c1c;-webkit-text-stroke:0.62px #1c1c1c;transform:scaleX(0.9809)">pH, </span>
<span class="t" style="left:806.75px;top:171px;font-size:19.7px;font-weight:400;color:#1c1c1c;-webkit-text-stroke:0.575px #1c1c1c;transform:scaleX(1.0273)">organic </span>
<span class="t" style="left:204.06px;top:198px;font-size:19.7px;font-weight:400;color:#1c1c1c;-webkit-text-stroke:0.62px #1c1c1c;transform:scaleX(1.0024)">carbon, </span>
<span class="t" style="left:274.74px;top:198px;font-size:19.7px;font-weight:400;color:#1c1c1c;-webkit-text-stroke:0.58px #1c1c1c;transform:scaleX(1.0241)">phosphorous </span>
<span class="t" style="left:396.99px;top:198px;font-size:19.7px;font-weight:400;color:#1c1c1c;-webkit-text-stroke:0.584px #1c1c1c;transform:scaleX(1.0220)">and </span>
<span class="t" style="left:435.77px;top:198px;font-size:19.7px;font-weight:400;color:#1c1c1c;-webkit-text-stroke:0.62px #1c1c1c;transform:scaleX(1.0069)">potassium; </span>
<span class="t" style="left:539.62px;top:198px;font-size:19.7px;font-weight:400;color:#1c1c1c;-webkit-text-stroke:0.62px #1c1c1c;transform:scaleX(1.0182)">vital </span>
<span class="t" style="left:580.17px;top:198px;font-size:19.7px;font-weight:400;color:#1c1c1c;-webkit-text-stroke:0.685px #1c1c1c;transform:scaleX(0.9628)">for </span>
<span class="t" style="left:609.27px;top:198px;font-size:19.7px;font-weight:400;color:#1c1c1c;-webkit-text-stroke:0.62px #1c1c1c;transform:scaleX(1.0132)">judicious </span>
<span class="t" style="left:693.20px;top:198px;font-size:19.7px;font-weight:400;color:#1c1c1c;-webkit-text-stroke:0.62px #1c1c1c;transform:scaleX(1.0168)">fertilizer </span>
<span class="t" style="left:770.12px;top:198px;font-size:19.7px;font-weight:400;color:#1c1c1c;-webkit-text-stroke:0.541px #1c1c1c;transform:scaleX(1.0492)">application. </span>
<span class="t" style="left:204.43px;top:225px;font-size:19.7px;font-weight:400;color:#1c1c1c;-webkit-text-stroke:0.774px #1c1c1c;transform:scaleX(0.9165)">The </span>
<span class="t" style="left:241.58px;top:225px;font-size:19.7px;font-weight:400;color:#1c1c1c;-webkit-text-stroke:0.706px #1c1c1c;transform:scaleX(0.9518)">Card </span>
<span class="t" style="left:288.66px;top:225px;font-size:19.7px;font-weight:400;color:#1c1c1c;-webkit-text-stroke:0.7px #1c1c1c;transform:scaleX(0.9547)">also </span>
<span class="t" style="left:329.84px;top:225px;font-size:19.7px;font-weight:400;color:#1c1c1c;-webkit-text-stroke:0.62px #1c1c1c;transform:scaleX(1.0028)">contains </span>
<span class="t" style="left:410.86px;top:225px;font-size:19.7px;font-weight:400;color:#1c1c1c;-webkit-text-stroke:0.691px #1c1c1c;transform:scaleX(0.9596)">the </span>
<span class="t" style="left:444.95px;top:225px;font-size:19.7px;font-weight:400;color:#1c1c1c;-webkit-text-stroke:0.817px #1c1c1c;transform:scaleX(0.8956)">NPK </span>
<span class="t" style="left:487.83px;top:225px;font-size:19.7px;font-weight:400;color:#1c1c1c;-webkit-text-stroke:0.555px #1c1c1c;transform:scaleX(1.0403)">recommendation </span>
<span class="t" style="left:647.35px;top:225px;font-size:19.7px;font-weight:400;color:#1c1c1c;-webkit-text-stroke:0.685px #1c1c1c;transform:scaleX(0.9628)">for </span>
<span class="t" style="left:675.70px;top:225px;font-size:19.7px;font-weight:400;color:#1c1c1c;-webkit-text-stroke:0.576px #1c1c1c;transform:scaleX(1.0267)">major </span>
<span class="t" style="left:732.91px;top:225px;font-size:19.7px;font-weight:400;color:#1c1c1c;-webkit-text-stroke:0.62px #1c1c1c;transform:scaleX(0.9853)">Kharif, </span>
<span class="t" style="left:793.67px;top:225px;font-size:19.7px;font-weight:400;color:#1c1c1c;-webkit-text-stroke:0.702px #1c1c1c;transform:scaleX(0.9536)">Rabi </span>
<span class="t" style="left:839.18px;top:225px;font-size:19.7px;font-weight:400;color:#1c1c1c;-webkit-text-stroke:0.584px #1c1c1c;transform:scaleX(1.0220)">and </span>
<span class="t" style="left:204.36px;top:253px;font-size:19.7px;font-weight:400;color:#1c1c1c;-webkit-text-stroke:0.62px #1c1c1c;transform:scaleX(0.9836)">summer </span>
<span class="t" style="left:278.88px;top:253px;font-size:19.7px;font-weight:400;color:#1c1c1c;-webkit-text-stroke:0.62px #1c1c1c;transform:scaleX(0.9914)">crops. </span>
<span class="t" style="left:203.53px;top:336px;font-size:19.7px;font-weight:700;word-spacing:-2.6px;color:#111;-webkit-text-stroke:0.3px #111;transform:scaleX(1.0008)">Objectives of Soil Health Card program </span>
<span class="t" style="left:240.67px;top:364px;font-size:19.2px;font-weight:400;color:#1c1c1c;-webkit-text-stroke:0.538px #1c1c1c;transform:scaleX(1.0267)">Provide </span>
<span class="t" style="left:310.91px;top:363px;font-size:19.2px;font-weight:400;color:#1c1c1c;-webkit-text-stroke:0.858px #1c1c1c;transform:scaleX(0.8543)">SHC </span>
<span class="t" style="left:349.99px;top:364px;font-size:19.2px;font-weight:400;color:#1c1c1c;-webkit-text-stroke:0.437px #1c1c1c;transform:scaleX(1.0965)">with </span>
<span class="t" style="left:390.22px;top:364px;font-size:19.2px;font-weight:400;color:#1c1c1c;-webkit-text-stroke:0.434px #1c1c1c;transform:scaleX(1.0984)">information </span>
<span class="t" style="left:496.68px;top:364px;font-size:19.2px;font-weight:400;color:#1c1c1c;-webkit-text-stroke:0.499px #1c1c1c;transform:scaleX(1.0523)">regarding </span>
<span class="t" style="left:585.27px;top:364px;font-size:19.2px;font-weight:400;color:#1c1c1c;-webkit-text-stroke:0.58px #1c1c1c;transform:scaleX(0.9913)">presence </span>
<span class="t" style="left:667.36px;top:364px;font-size:19.2px;font-weight:400;color:#1c1c1c;-webkit-text-stroke:0.513px #1c1c1c;transform:scaleX(1.0430)">of </span>
<span class="t" style="left:687.04px;top:364px;font-size:19.2px;font-weight:400;color:#1c1c1c;-webkit-text-stroke:0.446px #1c1c1c;transform:scaleX(1.0896)">nutrients </span>
<span class="t" style="left:240.67px;top:391px;font-size:19.2px;font-weight:400;color:#1c1c1c;-webkit-text-stroke:0.542px #1c1c1c;transform:scaleX(1.0237)">Recommend </span>
<span class="t" style="left:355.42px;top:391px;font-size:19.2px;font-weight:400;color:#1c1c1c;-webkit-text-stroke:0.732px #1c1c1c;transform:scaleX(0.9145)">NPK </span>
<span class="t" style="left:394.89px;top:391px;font-size:19.2px;font-weight:400;color:#1c1c1c;-webkit-text-stroke:0.36px #1c1c1c;transform:scaleX(1.1561)">on </span>
<span class="t" style="left:422.54px;top:391px;font-size:19.2px;font-weight:400;color:#1c1c1c;-webkit-text-stroke:0.58px #1c1c1c;transform:scaleX(1.0143)">the </span>
<span class="t" style="left:453.00px;top:391px;font-size:19.2px;font-weight:400;color:#1c1c1c;-webkit-text-stroke:0.74px #1c1c1c;transform:scaleX(0.9105)">basis </span>
<span class="t" style="left:497.81px;top:391px;font-size:19.2px;font-weight:400;color:#1c1c1c;-webkit-text-stroke:0.43px #1c1c1c;transform:scaleX(1.1014)">of </span>
<span class="t" style="left:518.39px;top:391px;font-size:19.2px;font-weight:400;color:#1c1c1c;-webkit-text-stroke:0.444px #1c1c1c;transform:scaleX(1.0912)">nutrient </span>
<span class="t" style="left:592.65px;top:391px;font-size:19.2px;font-weight:400;color:#1c1c1c;-webkit-text-stroke:0.58px #1c1c1c;transform:scaleX(1.0194)">status </span>
<span class="t" style="left:240.72px;top:418px;font-size:19.2px;font-weight:400;color:#1c1c1c;-webkit-text-stroke:0.58px #1c1c1c;transform:scaleX(0.9962)">Need </span>
<span class="t" style="left:290.32px;top:418px;font-size:19.2px;font-weight:400;color:#1c1c1c;-webkit-text-stroke:0.58px #1c1c1c;transform:scaleX(0.9959)">based </span>
<span class="t" style="left:345.87px;top:418px;font-size:19.2px;font-weight:400;color:#1c1c1c;-webkit-text-stroke:0.468px #1c1c1c;transform:scaleX(1.0740)">application </span>
<span class="t" style="left:447.48px;top:418px;font-size:19.2px;font-weight:400;color:#1c1c1c;-webkit-text-stroke:0.532px #1c1c1c;transform:scaleX(1.0302)">of </span>
<span class="t" style="left:465.50px;top:418px;font-size:19.2px;font-weight:400;color:#1c1c1c;-webkit-text-stroke:0.474px #1c1c1c;transform:scaleX(1.0695)">fertilizers </span>
<span class="t" style="left:240.67px;top:446px;font-size:19.2px;font-weight:400;color:#1c1c1c;-webkit-text-stroke:0.543px #1c1c1c;transform:scaleX(1.0233)">Reclamation </span>
<span class="t" style="left:353.32px;top:446px;font-size:19.2px;font-weight:400;color:#1c1c1c;-webkit-text-stroke:0.513px #1c1c1c;transform:scaleX(1.0430)">of </span>
<span class="t" style="left:374.06px;top:446px;font-size:19.2px;font-weight:400;color:#1c1c1c;-webkit-text-stroke:0.58px #1c1c1c;transform:scaleX(1.0183)">saline/alkaline </span>
<span class="t" style="left:502.77px;top:446px;font-size:19.2px;font-weight:400;color:#1c1c1c;-webkit-text-stroke:0.58px #1c1c1c;transform:scaleX(0.9991)">soil </span>
<span class="t" style="left:534.35px;top:446px;font-size:19.2px;font-weight:400;color:#1c1c1c;-webkit-text-stroke:0.632px #1c1c1c;transform:scaleX(0.9693)">based </span>
<span class="t" style="left:588.53px;top:446px;font-size:19.2px;font-weight:400;color:#1c1c1c;-webkit-text-stroke:0.424px #1c1c1c;transform:scaleX(1.1063)">on </span>
<span class="t" style="left:615.82px;top:446px;font-size:19.2px;font-weight:400;color:#1c1c1c;-webkit-text-stroke:0.58px #1c1c1c;transform:scaleX(0.9991)">soil </span>
<span class="t" style="left:647.98px;top:446px;font-size:19.2px;font-weight:400;color:#1c1c1c;-webkit-text-stroke:0.631px #1c1c1c;transform:scaleX(0.9698)">analysis </span>
<span class="t" style="left:240.60px;top:473px;font-size:19.2px;font-weight:400;color:#1c1c1c;-webkit-text-stroke:0.487px #1c1c1c;transform:scaleX(1.0609)">Integrated </span>
<span class="t" style="left:335.00px;top:473px;font-size:19.2px;font-weight:400;color:#1c1c1c;-webkit-text-stroke:0.436px #1c1c1c;transform:scaleX(1.0972)">nutrient </span>
<span class="t" style="left:409.20px;top:473px;font-size:19.2px;font-weight:400;color:#1c1c1c;-webkit-text-stroke:0.495px #1c1c1c;transform:scaleX(1.0553)">management </span>
<span class="t" style="left:532.72px;top:473px;font-size:19.2px;font-weight:400;color:#1c1c1c;-webkit-text-stroke:0.58px #1c1c1c;transform:scaleX(0.9961)">to </span>
<span class="t" style="left:552.51px;top:473px;font-size:19.2px;font-weight:400;color:#1c1c1c;-webkit-text-stroke:0.58px #1c1c1c;transform:scaleX(0.9918)">enhance </span>
<span class="t" style="left:629.37px;top:473px;font-size:19.2px;font-weight:400;color:#1c1c1c;-webkit-text-stroke:0.516px #1c1c1c;transform:scaleX(1.0412)">crop </span>
<span class="t" style="left:671.27px;top:473px;font-size:19.2px;font-weight:400;color:#1c1c1c;-webkit-text-stroke:0.437px #1c1c1c;transform:scaleX(1.0964)">productivity </span>
<span class="t" style="left:241.33px;top:500px;font-size:19.2px;font-weight:400;color:#1c1c1c;-webkit-text-stroke:0.58px #1c1c1c;transform:scaleX(0.9828)">Greater </span>
<span class="t" style="left:309.06px;top:500px;font-size:19.2px;font-weight:400;color:#1c1c1c;-webkit-text-stroke:0.441px #1c1c1c;transform:scaleX(1.0931)">return </span>
<span class="t" style="left:366.46px;top:500px;font-size:19.2px;font-weight:400;color:#1c1c1c;-webkit-text-stroke:0.747px #1c1c1c;transform:scaleX(0.9067)">by </span>
<span class="t" style="left:388.75px;top:500px;font-size:19.2px;font-weight:400;color:#1c1c1c;-webkit-text-stroke:0.447px #1c1c1c;transform:scaleX(1.0889)">reducing </span>
<span class="t" style="left:472.01px;top:500px;font-size:19.2px;font-weight:400;color:#1c1c1c;-webkit-text-stroke:0.629px #1c1c1c;transform:scaleX(0.9711)">cost </span>
<span class="t" style="left:510.76px;top:500px;font-size:19.2px;font-weight:400;color:#1c1c1c;-webkit-text-stroke:0.513px #1c1c1c;transform:scaleX(1.0430)">of </span>
<span class="t" style="left:529.55px;top:500px;font-size:19.2px;font-weight:400;color:#1c1c1c;-webkit-text-stroke:0.505px #1c1c1c;transform:scaleX(1.0484)">fertilizers </span>
<span class="t" style="left:240.70px;top:528px;font-size:19.2px;font-weight:400;color:#1c1c1c;-webkit-text-stroke:0.58px #1c1c1c;transform:scaleX(1.0173)">Preparing </span>
<span class="t" style="left:329.58px;top:528px;font-size:19.2px;font-weight:400;color:#1c1c1c;-webkit-text-stroke:0.58px #1c1c1c;transform:scaleX(0.9991)">soil </span>
<span class="t" style="left:362.27px;top:528px;font-size:19.2px;font-weight:400;color:#1c1c1c;-webkit-text-stroke:0.464px #1c1c1c;transform:scaleX(1.0768)">fertility </span>
<span class="t" style="left:426.85px;top:528px;font-size:19.2px;font-weight:400;color:#1c1c1c;-webkit-text-stroke:0.538px #1c1c1c;transform:scaleX(1.0262)">maps </span>
<span class="t" style="left:1090.18px;top:143px;font-size:14.0px;font-weight:700;color:#2b2f8f;-webkit-text-stroke:0.129px #2b2f8f;transform:scaleX(1.1215)">Optimum </span>
<span class="t" style="left:1087.12px;top:161px;font-size:14.0px;font-weight:700;color:#2b2f8f;-webkit-text-stroke:0.112px #2b2f8f;transform:scaleX(1.1346)">Utilization </span>
<span class="t" style="left:1224.97px;top:143px;font-size:14.0px;font-weight:700;color:#111;-webkit-text-stroke:0.115px #111;transform:scaleX(1.1325)">Maximum </span>
<span class="t" style="left:1217.03px;top:161px;font-size:14.0px;font-weight:700;color:#111;-webkit-text-stroke:0.166px #111;transform:scaleX(1.0924)">Productivity </span>
<span class="t" style="left:1084.93px;top:237px;font-size:14.0px;font-weight:700;color:#fff;-webkit-text-stroke:0.3px #fff;transform:scaleX(1.0435)">Soil &amp; </span>
<span class="t" style="left:1085.16px;top:256px;font-size:14.0px;font-weight:700;color:#fff;-webkit-text-stroke:0.3px #fff;transform:scaleX(1.0941)">Water </span>
<span class="t" style="left:1246.37px;top:237px;font-size:14.0px;font-weight:700;color:#fff;-webkit-text-stroke:0.3px #fff;transform:scaleX(1.1513)">Material </span>
<span class="t" style="left:1255.95px;top:256px;font-size:14.0px;font-weight:700;color:#fff;-webkit-text-stroke:0.3px #fff;transform:scaleX(1.1769)">Input </span>
<span class="t" style="left:1139.48px;top:295px;font-size:18px;font-weight:700;color:#f4f02a;-webkit-text-stroke:0.155px #f4f02a;transform:scaleX(1.0792)">Agriculture </span>
<span class="t" style="left:992.83px;top:318px;font-size:14.0px;font-weight:700;color:#3b3795;-webkit-text-stroke:0.186px #3b3795;transform:scaleX(1.0776)">Conservation </span>
<span class="t" style="left:1016.99px;top:359px;font-size:14.0px;font-weight:700;color:#111;-webkit-text-stroke:0.218px #111;transform:scaleX(1.0549)">Ecological </span>
<span class="t" style="left:1025.69px;top:377px;font-size:14.0px;font-weight:700;color:#111;-webkit-text-stroke:0.217px #111;transform:scaleX(1.0552)">Balance </span>
<span class="t" style="left:1164.69px;top:374px;font-size:14.0px;font-weight:700;color:#fff;-webkit-text-stroke:0.3px #fff;transform:scaleX(1.1105)">Human </span>
<span class="t" style="left:1155.17px;top:391px;font-size:14.0px;font-weight:700;color:#fff;-webkit-text-stroke:0.3px #fff;transform:scaleX(1.0121)">Resources </span>
<span class="t" style="left:1039.37px;top:423px;font-size:14.0px;font-weight:700;color:#111;-webkit-text-stroke:0.193px #111;transform:scaleX(1.0728)">Sustainable </span>
<span class="t" style="left:1068.59px;top:440px;font-size:14.0px;font-weight:700;color:#111;-webkit-text-stroke:0.3px #111;transform:scaleX(1.0169)">Use </span>
<span class="t" style="left:1320.39px;top:282px;font-size:14.0px;font-weight:700;color:#2b2f8f;-webkit-text-stroke:0.212px #2b2f8f;transform:scaleX(1.0591)">Balance </span>
<span class="t" style="left:1336.06px;top:300px;font-size:14.0px;font-weight:700;color:#2b2f8f;-webkit-text-stroke:0.265px #2b2f8f;transform:scaleX(1.0223)">Use </span>
<span class="t" style="left:1277.77px;top:343px;font-size:14.0px;font-weight:700;color:#4c5a4c;-webkit-text-stroke:0.199px #4c5a4c;transform:scaleX(1.0679)">Extension </span>
<span class="t" style="left:1269.44px;top:392px;font-size:14.0px;font-weight:700;color:#2b2f8f;-webkit-text-stroke:0.205px #2b2f8f;transform:scaleX(1.0637)">Chain for </span>
<span class="t" style="left:1257.29px;top:411px;font-size:14.0px;font-weight:700;color:#2b2f8f;-webkit-text-stroke:0.131px #2b2f8f;transform:scaleX(1.1199)">Marketing &amp; </span>
<span class="t" style="left:1261.52px;top:429px;font-size:14.0px;font-weight:700;color:#2b2f8f;-webkit-text-stroke:0.157px #2b2f8f;transform:scaleX(1.0995)">Production </span>
<span class="t" style="left:1019.68px;top:519px;font-size:20.2px;font-weight:700;word-spacing:-1.5px;color:#111;-webkit-text-stroke:0.3px #111;transform:scaleX(1.0033)">Management of soil health is important </span>
<span class="t" style="left:1081.04px;top:543px;font-size:20.2px;font-weight:700;word-spacing:-1.5px;color:#111;-webkit-text-stroke:0.3px #111;transform:scaleX(0.9842)">for sustainable agriculture </span>
<span class="t" style="left:512.90px;top:618px;font-size:21.8px;font-weight:700;color:#111;-webkit-text-stroke:0.688px #111;transform:scaleX(0.9480)">Soil </span>
<span class="t" style="left:554.69px;top:618px;font-size:21.8px;font-weight:700;color:#111;-webkit-text-stroke:0.425px #111;transform:scaleX(1.0521)">Health </span>
<span class="t" style="left:630.46px;top:618px;font-size:21.8px;font-weight:700;color:#111;-webkit-text-stroke:0.65px #111;transform:scaleX(0.9618)">Card </span>
<span class="t" style="left:682.28px;top:618px;font-size:21.8px;font-weight:700;color:#111;-webkit-text-stroke:0.741px #111;transform:scaleX(0.9295)">is </span>
<span class="t" style="left:704.51px;top:618px;font-size:21.8px;font-weight:700;color:#111;-webkit-text-stroke:0.55px #111;transform:scaleX(1.0050)">based </span>
<span class="t" style="left:772.60px;top:618px;font-size:21.8px;font-weight:700;color:#111;-webkit-text-stroke:0.55px #111;transform:scaleX(0.9903)">on </span>
<span class="t" style="left:804.23px;top:618px;font-size:21.8px;font-weight:700;color:#111;-webkit-text-stroke:0.465px #111;transform:scaleX(1.0350)">Integrated </span>
<span class="t" style="left:918.63px;top:618px;font-size:21.8px;font-weight:700;color:#111;-webkit-text-stroke:0.46px #111;transform:scaleX(1.0368)">Module </span>
<span class="t" style="left:237.09px;top:775px;font-size:18.4px;font-weight:400;color:#222;-webkit-text-stroke:0.55px #222;transform:scaleX(1.0194)">Sample Collection </span>
<span class="t" style="left:688.40px;top:775px;font-size:18.4px;font-weight:400;color:#222;-webkit-text-stroke:0.55px #222;transform:scaleX(0.9851)">Sample Analysis </span>
<span class="t" style="left:1126.50px;top:774px;font-size:18.4px;font-weight:400;color:#222;-webkit-text-stroke:0.55px #222;transform:scaleX(0.9946)">Soil Health Card </span>
<span class="t" style="left:1083.15px;top:797px;font-size:18.4px;font-weight:400;color:#222;-webkit-text-stroke:0.481px #222;transform:scaleX(1.0464)">Preparation &amp; Distribution </span>
<span class="t" style="left:186.90px;top:837px;font-size:18.4px;font-weight:700;color:#1b97d3;-webkit-text-stroke:0.407px #1b97d3;transform:scaleX(0.9496)">Local Person (SSC/HSC Pass) </span>
<span class="t" style="left:126.79px;top:859px;font-size:18.4px;font-weight:400;color:#222;-webkit-text-stroke:0.55px #222;transform:scaleX(1.0169)">Selection by Local officers and 1 day training </span>
<span class="t" style="left:192.25px;top:882px;font-size:18.4px;font-weight:400;color:#222;-webkit-text-stroke:0.55px #222;transform:scaleX(0.9903)">Payment of Rs.15 per sample </span>
<span class="t" style="left:1095.43px;top:858px;font-size:18.4px;font-weight:700;color:#1b97d3;-webkit-text-stroke:0.23px #1b97d3;transform:scaleX(1.0362)">Data entry, Printing &amp; </span>
<span class="t" style="left:1066.26px;top:881px;font-size:18.4px;font-weight:700;color:#1b97d3;-webkit-text-stroke:0.3px #1b97d3;transform:scaleX(1.0113)">Soil Health Card Preparation </span>
<span class="t" style="left:1091.75px;top:903px;font-size:18.4px;font-weight:700;color:#1b97d3;-webkit-text-stroke:0.247px #1b97d3;transform:scaleX(1.0268)">by respective institute </span>
<span class="t" style="left:249.90px;top:963px;font-size:18.4px;font-weight:400;color:#3c3a8e;-webkit-text-stroke:0.55px #3c3a8e;transform:scaleX(0.9855)">STL- Agri Dept. </span>
<span class="t" style="left:295.91px;top:985px;font-size:18.4px;font-weight:400;color:#3c3a8e;-webkit-text-stroke:0.55px #3c3a8e;transform:scaleX(0.9982)">(22) </span>
<span class="t" style="left:474.88px;top:963px;font-size:18.4px;font-weight:400;color:#27a567;-webkit-text-stroke:0.516px #27a567;transform:scaleX(1.0221)">Govt. lab run by </span>
<span class="t" style="left:478.82px;top:985px;font-size:18.4px;font-weight:400;color:#27a567;-webkit-text-stroke:0.691px #27a567;transform:scaleX(0.9172)">APMCs STL (63) </span>
<span class="t" style="left:684.77px;top:963px;font-size:18.4px;font-weight:400;color:#3c3a8e;-webkit-text-stroke:0.5px #3c3a8e;transform:scaleX(1.0332)">Govt. Corporation </span>
<span class="t" style="left:691.21px;top:985px;font-size:18.4px;font-weight:400;color:#3c3a8e;-webkit-text-stroke:0.55px #3c3a8e;transform:scaleX(1.0186)">managed lab (2) </span>
<span class="t" style="left:915.64px;top:963px;font-size:18.4px;font-weight:400;color:#27a567;-webkit-text-stroke:0.55px #27a567;transform:scaleX(1.0016)">Lab run by </span>
<span class="t" style="left:890.63px;top:985px;font-size:18.4px;font-weight:400;color:#27a567;-webkit-text-stroke:0.594px #27a567;transform:scaleX(0.9728)">Sugar Coop. (16) </span>
<span class="t" style="left:1157.00px;top:963px;font-size:18.4px;font-weight:400;color:#3c3a8e;-webkit-text-stroke:0.706px #3c3a8e;transform:scaleX(0.9091)">SAUs &amp; </span>
<span class="t" style="left:1117.22px;top:985px;font-size:18.4px;font-weight:400;color:#3c3a8e;-webkit-text-stroke:0.586px #3c3a8e;transform:scaleX(0.9774)">Science Colleges </span>
<span class="t" style="left:180.55px;top:1045px;font-size:18.4px;font-weight:400;color:#fff;-webkit-text-stroke:0.25px #fff;transform:scaleX(1.0141)">Outsourced to Private Agencies </span>
<span class="t" style="left:189.53px;top:1068px;font-size:18.4px;font-weight:400;color:#fff;-webkit-text-stroke:0.25px #fff;transform:scaleX(1.0164)">for operation on sample basis </span>
<span class="t" style="left:569.16px;top:1045px;font-size:18.4px;font-weight:400;color:#fff;-webkit-text-stroke:0.25px #fff;transform:scaleX(0.9838)">Sample analysis in labs, managed by APMCs, </span>
<span class="t" style="left:510.67px;top:1068px;font-size:18.4px;font-weight:400;color:#fff;-webkit-text-stroke:0.25px #fff;transform:scaleX(0.9963)">Govt. Corporation &amp; Sugar Co-op. Paid on per sample basis </span>
<span class="t" style="left:1074.65px;top:1045px;font-size:18.4px;font-weight:400;color:#fff;-webkit-text-stroke:0.25px #fff;transform:scaleX(1.0026)">Sample analysis by students </span>
<span class="t" style="left:1096.13px;top:1068px;font-size:18.4px;font-weight:400;color:#fff;-webkit-text-stroke:0.25px #fff;transform:scaleX(1.0540)">during vacation period </span>
<span class="t" style="left:347.14px;top:1158px;font-size:17.4px;font-weight:700;color:#fff;-webkit-text-stroke:0.3px #fff;transform:scaleX(0.9263)">78 </span>
</body></html>
